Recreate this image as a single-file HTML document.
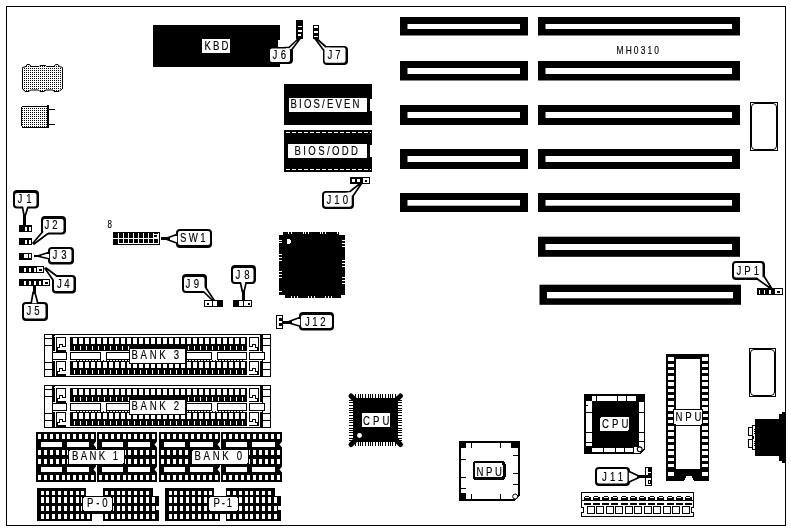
<!DOCTYPE html>
<html><head><meta charset="utf-8"><title>MH0310 board layout</title>
<style>
html,body{margin:0;padding:0;background:#fff;}
body{width:791px;height:531px;overflow:hidden;font-family:"Liberation Sans",sans-serif;}
svg{display:block;filter:grayscale(1);}
svg text{font-family:"Liberation Sans",sans-serif;}
</style></head><body>
<svg width="791" height="531" viewBox="0 0 791 531" shape-rendering="crispEdges">
<defs>
<pattern id="dots" x="0" y="0" width="2" height="2" patternUnits="userSpaceOnUse"><rect x="0" y="0" width="2" height="2" fill="#fff"/><rect x="0" y="0" width="1" height="1" fill="#000"/></pattern>
</defs>
<rect x="0" y="0" width="791" height="531" fill="#fff"/>
<rect x="6.5" y="6.5" width="779" height="519" fill="#fff" stroke="#000" stroke-width="1"/>
<rect x="400" y="17" width="128" height="18.5" fill="#000" shape-rendering="geometricPrecision"/>
<rect x="407.5" y="24" width="112.5" height="5" fill="#fff" shape-rendering="geometricPrecision"/>
<rect x="400" y="61" width="128" height="19.5" fill="#000" shape-rendering="geometricPrecision"/>
<rect x="407.5" y="68" width="112.5" height="6" fill="#fff" shape-rendering="geometricPrecision"/>
<rect x="400" y="105" width="128" height="20" fill="#000" shape-rendering="geometricPrecision"/>
<rect x="407.5" y="112" width="112.5" height="6" fill="#fff" shape-rendering="geometricPrecision"/>
<rect x="400" y="149" width="128" height="20" fill="#000" shape-rendering="geometricPrecision"/>
<rect x="407.5" y="156" width="112.5" height="6" fill="#fff" shape-rendering="geometricPrecision"/>
<rect x="400" y="193" width="128" height="19" fill="#000" shape-rendering="geometricPrecision"/>
<rect x="407.5" y="200" width="112.5" height="5.7" fill="#fff" shape-rendering="geometricPrecision"/>
<rect x="538" y="17" width="202" height="18.5" fill="#000" shape-rendering="geometricPrecision"/>
<rect x="545.5" y="24" width="186.5" height="5" fill="#fff" shape-rendering="geometricPrecision"/>
<rect x="538" y="61" width="202" height="19.5" fill="#000" shape-rendering="geometricPrecision"/>
<rect x="545.5" y="68" width="186.5" height="6" fill="#fff" shape-rendering="geometricPrecision"/>
<rect x="538" y="105" width="202" height="20" fill="#000" shape-rendering="geometricPrecision"/>
<rect x="545.5" y="112" width="186.5" height="6" fill="#fff" shape-rendering="geometricPrecision"/>
<rect x="538" y="149" width="202" height="20" fill="#000" shape-rendering="geometricPrecision"/>
<rect x="545.5" y="156" width="186.5" height="6" fill="#fff" shape-rendering="geometricPrecision"/>
<rect x="538" y="193" width="202" height="19" fill="#000" shape-rendering="geometricPrecision"/>
<rect x="545.5" y="200" width="186.5" height="5.7" fill="#fff" shape-rendering="geometricPrecision"/>
<rect x="538" y="236.7" width="202" height="20.1" fill="#000" shape-rendering="geometricPrecision"/>
<rect x="545.5" y="244" width="186.5" height="6" fill="#fff" shape-rendering="geometricPrecision"/>
<rect x="539.5" y="284.7" width="201.5" height="20.1" fill="#000" shape-rendering="geometricPrecision"/>
<rect x="547.0" y="292" width="186.0" height="6.3" fill="#fff" shape-rendering="geometricPrecision"/>
<text transform="translate(616.5,54) scale(0.8,1)" font-size="10.5" fill="#000" stroke="#000" stroke-width="0.15" text-anchor="start" textLength="53.12" lengthAdjust="spacing">MH0310</text>
<rect x="153" y="25" width="127" height="42" fill="#000" />
<rect x="278" y="40" width="2" height="24" fill="#fff" />
<rect x="202" y="39" width="28" height="14" fill="#fff" />
<text transform="translate(204.5,50) scale(0.8,1)" font-size="12" fill="#000" stroke="#000" stroke-width="0.15" text-anchor="start" textLength="30.0" lengthAdjust="spacing">KBD</text>
<rect x="296" y="20" width="7" height="19" fill="#000" />
<rect x="298" y="26" width="4" height="1" fill="#fff" />
<rect x="298" y="30" width="4" height="2" fill="#fff" />
<rect x="298" y="34" width="3" height="2" fill="#fff" />
<rect x="313" y="25" width="6" height="14" fill="#000" />
<rect x="314" y="26" width="4" height="2" fill="#fff" />
<rect x="314" y="31" width="4" height="2" fill="#fff" />
<rect x="314" y="36" width="4" height="1" fill="#fff" />
<rect x="269" y="47" width="24" height="17" rx="4" fill="#000" shape-rendering="geometricPrecision"/>
<polygon points="299,38 300.5,38 291.5,50 285,50 285,47.5 289,47.5" fill="#fff" stroke="#000" stroke-width="1.7" stroke-linejoin="round" shape-rendering="geometricPrecision"/>
<rect x="270" y="48.5" width="20" height="13.5" rx="2" fill="#fff" shape-rendering="geometricPrecision"/>
<text transform="translate(272.5,59) scale(0.8,1)" font-size="12" fill="#000" stroke="#000" stroke-width="0.15" text-anchor="start" textLength="16.88" lengthAdjust="spacing">J6</text>
<rect x="323" y="46" width="25" height="19" rx="4" fill="#000" shape-rendering="geometricPrecision"/>
<polygon points="314.5,38 316,38 326,47 331,47 331,52 323.5,50" fill="#fff" stroke="#000" stroke-width="1.7" stroke-linejoin="round" shape-rendering="geometricPrecision"/>
<rect x="324.5" y="47.5" width="21.0" height="15.3" rx="2" fill="#fff" shape-rendering="geometricPrecision"/>
<text transform="translate(327.5,59) scale(0.8,1)" font-size="12" fill="#000" stroke="#000" stroke-width="0.15" text-anchor="start" textLength="16.25" lengthAdjust="spacing">J7</text>
<rect x="284" y="84" width="88" height="41" fill="#000" />
<rect x="370" y="99" width="2" height="12" fill="#fff" />
<rect x="289" y="98" width="78" height="14" fill="#fff" />
<text transform="translate(290.5,108) scale(0.8,1)" font-size="12" fill="#000" stroke="#000" stroke-width="0.15" text-anchor="start" textLength="86.25" lengthAdjust="spacing">BIOS/EVEN</text>
<rect x="284" y="130" width="88" height="42" fill="#000" />
<rect x="370" y="145" width="2" height="12" fill="#fff" />
<path d="M286 132.5H371M286 169.5H371" stroke="#fff" stroke-width="1" stroke-dasharray="4 2" fill="none"/>
<rect x="288" y="144" width="79" height="14" fill="#fff" />
<text transform="translate(294.5,155) scale(0.8,1)" font-size="12" fill="#000" stroke="#000" stroke-width="0.15" text-anchor="start" textLength="79.38" lengthAdjust="spacing">BIOS/ODD</text>
<rect x="350" y="177" width="20" height="7" fill="#000" />
<rect x="352" y="179" width="3" height="3" fill="#fff" />
<rect x="357" y="179" width="3" height="3" fill="#fff" />
<rect x="363" y="178" width="6" height="5" fill="#fff" />
<rect x="365" y="180" width="2" height="2" fill="#000" />
<rect x="322" y="191" width="32" height="18" rx="4" fill="#000" shape-rendering="geometricPrecision"/>
<polygon points="360,183.5 361.5,183.5 353,196 346,198 346,192 350,191.5" fill="#fff" stroke="#000" stroke-width="1.7" stroke-linejoin="round" shape-rendering="geometricPrecision"/>
<rect x="324" y="192.7" width="27.7" height="14.0" rx="2" fill="#fff" shape-rendering="geometricPrecision"/>
<text transform="translate(326.5,204) scale(0.8,1)" font-size="12" fill="#000" stroke="#000" stroke-width="0.15" text-anchor="start" textLength="26.88" lengthAdjust="spacing">J10</text>
<rect x="19" y="225" width="13" height="7" fill="#000" />
<rect x="25" y="226.5" width="2" height="4.0" fill="#fff" />
<rect x="29" y="226.5" width="2" height="4.0" fill="#fff" />
<rect x="19" y="238" width="13" height="7" fill="#000" />
<rect x="25" y="239.5" width="2" height="4.0" fill="#fff" />
<rect x="29" y="239.5" width="2" height="4.0" fill="#fff" />
<rect x="19" y="253" width="13" height="6.5" fill="#000" />
<rect x="24" y="254" width="7" height="3.5" fill="#fff" />
<rect x="27.5" y="254" width="1.0" height="3.5" fill="#000" />
<rect x="19" y="266" width="25" height="7" fill="#000" />
<rect x="24" y="267.5" width="2" height="4.0" fill="#fff" />
<rect x="29" y="267.5" width="2" height="4.0" fill="#fff" />
<rect x="34" y="267.5" width="2" height="4.0" fill="#fff" />
<rect x="37" y="267" width="6" height="5" fill="#fff" />
<rect x="39" y="268.5" width="2.5" height="2.0" fill="#000" />
<rect x="19" y="279" width="31" height="7" fill="#000" />
<rect x="24" y="280.5" width="2" height="4.0" fill="#fff" />
<rect x="29" y="280.5" width="2" height="4.0" fill="#fff" />
<rect x="34" y="280.5" width="2" height="4.0" fill="#fff" />
<rect x="39" y="280.5" width="2" height="4.0" fill="#fff" />
<rect x="43" y="280" width="6" height="5" fill="#fff" />
<rect x="45" y="281.5" width="2.5" height="2.0" fill="#000" />
<rect x="13" y="190" width="26" height="18.5" rx="4" fill="#000" shape-rendering="geometricPrecision"/>
<polygon points="22,205 28.5,205 25.5,215 24,215" fill="#fff" stroke="#000" stroke-width="1.7" stroke-linejoin="round" shape-rendering="geometricPrecision"/>
<rect x="15" y="193" width="21.5" height="13.5" rx="2" fill="#fff" shape-rendering="geometricPrecision"/>
<text transform="translate(17.5,203) scale(0.8,1)" font-size="12" fill="#000" stroke="#000" stroke-width="0.15" text-anchor="start" textLength="17.5" lengthAdjust="spacing">J1</text>
<rect x="23.3" y="214" width="3.0" height="11" fill="#000" />
<rect x="41" y="216" width="25" height="18.5" rx="4" fill="#000" shape-rendering="geometricPrecision"/>
<polygon points="33,243 45,229 45,224 50,232 34,244" fill="#fff" stroke="#000" stroke-width="1.7" stroke-linejoin="round" shape-rendering="geometricPrecision"/>
<rect x="43" y="219" width="20.5" height="13.5" rx="2" fill="#fff" shape-rendering="geometricPrecision"/>
<text transform="translate(44.5,229) scale(0.8,1)" font-size="12" fill="#000" stroke="#000" stroke-width="0.15" text-anchor="start" textLength="16.25" lengthAdjust="spacing">J2</text>
<rect x="48" y="247" width="26" height="17.5" rx="4" fill="#000" shape-rendering="geometricPrecision"/>
<polygon points="39,255.5 50,252 50,259 39,256.5" fill="#fff" stroke="#000" stroke-width="1.7" stroke-linejoin="round" shape-rendering="geometricPrecision"/>
<rect x="50" y="249" width="21.5" height="13.0" rx="2" fill="#fff" shape-rendering="geometricPrecision"/>
<text transform="translate(52.5,259) scale(0.8,1)" font-size="12" fill="#000" stroke="#000" stroke-width="0.15" text-anchor="start" textLength="17.5" lengthAdjust="spacing">J3</text>
<rect x="33.5" y="254.8" width="7.5" height="2.4" fill="#000" />
<rect x="52" y="275" width="24" height="18.5" rx="4" fill="#000" shape-rendering="geometricPrecision"/>
<polygon points="45,268.5 46,268 58,277 55,284 53,280" fill="#fff" stroke="#000" stroke-width="1.7" stroke-linejoin="round" shape-rendering="geometricPrecision"/>
<rect x="54" y="277" width="19.5" height="14.0" rx="2" fill="#fff" shape-rendering="geometricPrecision"/>
<text transform="translate(57,288) scale(0.8,1)" font-size="12" fill="#000" stroke="#000" stroke-width="0.15" text-anchor="start" textLength="15.62" lengthAdjust="spacing">J4</text>
<rect x="22" y="302" width="26" height="19" rx="4" fill="#000" shape-rendering="geometricPrecision"/>
<polygon points="33.2,292 34.8,292 38,304 31,304" fill="#fff" stroke="#000" stroke-width="1.7" stroke-linejoin="round" shape-rendering="geometricPrecision"/>
<rect x="24" y="304" width="21.5" height="14.5" rx="2" fill="#fff" shape-rendering="geometricPrecision"/>
<text transform="translate(26.5,315) scale(0.8,1)" font-size="12" fill="#000" stroke="#000" stroke-width="0.15" text-anchor="start" textLength="16.25" lengthAdjust="spacing">J5</text>
<rect x="32.5" y="286" width="3.0" height="8" fill="#000" />
<text transform="translate(107.5,227.5) scale(0.8,1)" font-size="10" fill="#000" stroke="#000" stroke-width="0.15" text-anchor="start">8</text>
<rect x="113" y="232" width="47" height="13" fill="#000" />
<rect x="113" y="238" width="46" height="1" fill="#fff" />
<rect x="118" y="233" width="1" height="11" fill="#fff" />
<rect x="123" y="233" width="1" height="11" fill="#fff" />
<rect x="128" y="233" width="1" height="11" fill="#fff" />
<rect x="133" y="233" width="1" height="11" fill="#fff" />
<rect x="138" y="233" width="1" height="11" fill="#fff" />
<rect x="143" y="233" width="1" height="11" fill="#fff" />
<rect x="148" y="233" width="1" height="11" fill="#fff" />
<rect x="153" y="233" width="1" height="11" fill="#fff" />
<rect x="153" y="234" width="5" height="4" fill="#fff" />
<rect x="154" y="235" width="3" height="2" fill="#000" />
<rect x="158" y="233" width="1" height="11" fill="#fff" />
<rect x="118" y="243" width="41" height="1" fill="#fff" />
<rect x="176" y="229" width="36" height="19" rx="4" fill="#000" shape-rendering="geometricPrecision"/>
<polygon points="167,238 178,234 178,243.5 167,239.5" fill="#fff" stroke="#000" stroke-width="1.7" stroke-linejoin="round" shape-rendering="geometricPrecision"/>
<rect x="178" y="231" width="32" height="14" rx="2" fill="#fff" shape-rendering="geometricPrecision"/>
<text transform="translate(180,242) scale(0.8,1)" font-size="12" fill="#000" stroke="#000" stroke-width="0.15" text-anchor="start" textLength="31.88" lengthAdjust="spacing">SW1</text>
<rect x="161" y="237" width="9" height="3" fill="#000" />
<rect x="204" y="300" width="19" height="7" fill="#000" />
<rect x="205" y="301" width="12.5" height="4.5" fill="#fff" />
<rect x="206.5" y="302.5" width="2.5" height="2.0" fill="#000" />
<rect x="212" y="301" width="1" height="4.5" fill="#000" />
<rect x="216.5" y="301" width="1.0" height="4.5" fill="#000" />
<rect x="233" y="300" width="19" height="7" fill="#000" />
<rect x="239" y="301" width="12" height="4.5" fill="#fff" />
<rect x="243" y="301" width="1" height="4.5" fill="#000" />
<rect x="247.5" y="302.5" width="2.0" height="2.0" fill="#000" />
<rect x="182" y="274" width="25" height="19" rx="4" fill="#000" shape-rendering="geometricPrecision"/>
<polygon points="212,300 214,300 206,288 202,283 200,291 204,292" fill="#fff" stroke="#000" stroke-width="1.7" stroke-linejoin="round" shape-rendering="geometricPrecision"/>
<rect x="184" y="277" width="20.5" height="14" rx="2" fill="#fff" shape-rendering="geometricPrecision"/>
<text transform="translate(185.5,288) scale(0.8,1)" font-size="12" fill="#000" stroke="#000" stroke-width="0.15" text-anchor="start" textLength="16.88" lengthAdjust="spacing">J9</text>
<rect x="231" y="265" width="25" height="19" rx="4" fill="#000" shape-rendering="geometricPrecision"/>
<polygon points="242.5,292 244,292 246.5,281 240,281" fill="#fff" stroke="#000" stroke-width="1.7" stroke-linejoin="round" shape-rendering="geometricPrecision"/>
<rect x="233" y="268" width="20.5" height="14" rx="2" fill="#fff" shape-rendering="geometricPrecision"/>
<text transform="translate(235.5,279) scale(0.8,1)" font-size="12" fill="#000" stroke="#000" stroke-width="0.15" text-anchor="start" textLength="17.5" lengthAdjust="spacing">J8</text>
<rect x="241.8" y="290" width="3.0" height="10" fill="#000" />
<polygon points="283,232 339,232 339,235 345,235 345,295 341,295 341,298 285,298 285,295 279,295 279,235 283,235" fill="#000"/>
<rect x="287" y="239" width="3" height="5" fill="#fff" />
<rect x="290" y="240" width="1" height="3" fill="#fff" />
<rect x="288" y="232" width="1" height="2" fill="#fff" />
<rect x="291" y="232" width="1" height="2" fill="#fff" />
<rect x="303" y="232" width="1" height="2" fill="#fff" />
<rect x="305" y="232" width="1" height="2" fill="#fff" />
<rect x="308" y="232" width="1" height="2" fill="#fff" />
<rect x="320" y="232" width="1" height="2" fill="#fff" />
<rect x="322" y="232" width="1" height="2" fill="#fff" />
<rect x="325" y="232" width="1" height="2" fill="#fff" />
<rect x="337" y="232" width="1" height="2" fill="#fff" />
<rect x="291" y="296" width="1" height="2" fill="#fff" />
<rect x="294" y="296" width="1" height="2" fill="#fff" />
<rect x="297" y="296" width="1" height="2" fill="#fff" />
<rect x="308" y="296" width="1" height="2" fill="#fff" />
<rect x="311" y="296" width="1" height="2" fill="#fff" />
<rect x="314" y="296" width="1" height="2" fill="#fff" />
<rect x="325" y="296" width="1" height="2" fill="#fff" />
<rect x="328" y="296" width="1" height="2" fill="#fff" />
<rect x="331" y="296" width="1" height="2" fill="#fff" />
<rect x="279" y="240" width="3" height="1" fill="#fff" />
<rect x="279" y="242" width="3" height="1" fill="#fff" />
<rect x="279" y="254" width="3" height="1" fill="#fff" />
<rect x="279" y="257" width="3" height="1" fill="#fff" />
<rect x="279" y="260" width="3" height="1" fill="#fff" />
<rect x="279" y="271" width="3" height="1" fill="#fff" />
<rect x="279" y="274" width="3" height="1" fill="#fff" />
<rect x="279" y="277" width="3" height="1" fill="#fff" />
<rect x="279" y="291" width="3" height="1" fill="#fff" />
<rect x="342" y="240" width="3" height="1" fill="#fff" />
<rect x="342" y="243" width="3" height="1" fill="#fff" />
<rect x="342" y="246" width="3" height="1" fill="#fff" />
<rect x="342" y="260" width="3" height="1" fill="#fff" />
<rect x="342" y="263" width="3" height="1" fill="#fff" />
<rect x="342" y="266" width="3" height="1" fill="#fff" />
<rect x="342" y="277" width="3" height="1" fill="#fff" />
<rect x="342" y="280" width="3" height="1" fill="#fff" />
<rect x="342" y="283" width="3" height="1" fill="#fff" />
<rect x="276" y="315" width="7" height="14" fill="#000" />
<rect x="277" y="316" width="5" height="12" fill="#fff" />
<rect x="278.5" y="318" width="3.5" height="3" fill="#000" />
<rect x="278.5" y="323" width="3.5" height="3" fill="#000" />
<rect x="299" y="312" width="35" height="18.5" rx="4" fill="#000" shape-rendering="geometricPrecision"/>
<polygon points="289,321.5 301,317 301,326.5 289,323" fill="#fff" stroke="#000" stroke-width="1.7" stroke-linejoin="round" shape-rendering="geometricPrecision"/>
<rect x="301" y="315" width="31" height="13.0" rx="2" fill="#fff" shape-rendering="geometricPrecision"/>
<text transform="translate(305,326) scale(0.8,1)" font-size="12" fill="#000" stroke="#000" stroke-width="0.15" text-anchor="start" textLength="25.62" lengthAdjust="spacing">J12</text>
<rect x="283" y="320.5" width="9" height="3.0" fill="#000" />
<rect x="750.5" y="102.5" width="27" height="48" fill="#fff" stroke="#000" stroke-width="1" rx="0"/>
<rect x="751.5" y="103.5" width="25" height="46" rx="3.5" fill="#fff" stroke="#000" stroke-width="1" shape-rendering="geometricPrecision"/>
<rect x="749.5" y="348.5" width="26" height="48" fill="#fff" stroke="#000" stroke-width="1" rx="0"/>
<rect x="750.5" y="349.5" width="24" height="46" rx="3.5" fill="#fff" stroke="#000" stroke-width="1" shape-rendering="geometricPrecision"/>
<rect x="757" y="288" width="26" height="7" fill="#000" />
<rect x="758.5" y="289.5" width="1.5" height="4.0" fill="#fff" />
<rect x="763.5" y="289.5" width="1.5" height="4.0" fill="#fff" />
<rect x="769" y="289.5" width="1.5" height="4.0" fill="#fff" />
<rect x="775" y="289" width="7" height="5" fill="#fff" />
<rect x="777" y="290.5" width="3" height="2.0" fill="#000" />
<rect x="732" y="261" width="33" height="19" rx="4" fill="#000" shape-rendering="geometricPrecision"/>
<polygon points="770,288 771.5,288 764.5,277 761,274 756,277 758,279.5" fill="#fff" stroke="#000" stroke-width="1.7" stroke-linejoin="round" shape-rendering="geometricPrecision"/>
<rect x="734" y="263" width="28.5" height="14.5" rx="2" fill="#fff" shape-rendering="geometricPrecision"/>
<text transform="translate(736.5,275) scale(0.8,1)" font-size="12" fill="#000" stroke="#000" stroke-width="0.15" text-anchor="start" textLength="28.12" lengthAdjust="spacing">JP1</text>
<path d="M22.5,67.5 L26,66.5 L27,64.5 L29.5,64.5 L31,66.5 L39,66.5 L40,65.5 L45.5,65.5 L46.5,66.5 L54,66.5 L55.5,64.5 L58,64.5 L59.5,66.5 L62.5,67.5 L62.5,89 L60,90.5 L59,91.5 L54,91.5 L53,90 L46,90 L44,91.5 L40,91.5 L38.5,90 L30.5,90 L29,91.5 L25,91.5 L24,90 L22.5,89 Z" fill="url(#dots)" stroke="#000" stroke-width="1" shape-rendering="geometricPrecision"/>
<path d="M22.5,106.5 H47 V127 H22.5 L21.5,125.5 V108 Z" fill="url(#dots)" stroke="#000" stroke-width="1"/>
<rect x="47" y="105" width="2" height="23" fill="#000" />
<rect x="49" y="109" width="6" height="1" fill="#000" />
<rect x="49" y="124" width="6" height="1" fill="#000" />
<rect x="44.5" y="334.5" width="226" height="42" fill="#fff" stroke="#000" stroke-width="1" rx="0"/>
<rect x="44" y="338" width="8" height="1" fill="#000" />
<rect x="44" y="345" width="8" height="1" fill="#000" />
<rect x="44" y="362" width="8" height="1" fill="#000" />
<rect x="44" y="369" width="8" height="1" fill="#000" />
<rect x="52" y="334" width="1" height="43" fill="#000" />
<rect x="53" y="335" width="2" height="16" fill="#000" />
<rect x="53" y="361" width="2" height="15" fill="#000" />
<rect x="53.5" y="336" width="1.0" height="1" fill="#fff" />
<path d="M56.5,337.5 H65.5 V346.5 H62.5 V344.5 H59.5 V347.5 H57.5 V350.5 H56.5 Z" fill="#fff" stroke="#000" stroke-width="1"/>
<rect x="56" y="350" width="10" height="1.5" fill="#000" />
<path d="M56.5,361.5 H65.5 V370.5 H62.5 V368.5 H59.5 V371.5 H57.5 V374.5 H56.5 Z" fill="#fff" stroke="#000" stroke-width="1"/>
<rect x="56" y="374" width="10" height="1.5" fill="#000" />
<rect x="52.5" y="352.5" width="14" height="7" fill="#fff" stroke="#000" stroke-width="1" rx="0"/>
<rect x="263" y="338" width="8" height="1" fill="#000" />
<rect x="263" y="345" width="8" height="1" fill="#000" />
<rect x="263" y="362" width="8" height="1" fill="#000" />
<rect x="263" y="369" width="8" height="1" fill="#000" />
<rect x="262" y="334" width="1" height="43" fill="#000" />
<rect x="260" y="335" width="2" height="16" fill="#000" />
<rect x="260" y="361" width="2" height="15" fill="#000" />
<path d="M258.5,337.5 H249.5 V346.5 H252.5 V344.5 H255.5 V347.5 H257.5 V350.5 H258.5 Z" fill="#fff" stroke="#000" stroke-width="1"/>
<rect x="249" y="350" width="10" height="1" fill="#000" />
<path d="M258.5,361.5 H249.5 V370.5 H252.5 V368.5 H255.5 V371.5 H257.5 V374.5 H258.5 Z" fill="#fff" stroke="#000" stroke-width="1"/>
<rect x="249" y="374" width="10" height="1" fill="#000" />
<rect x="249.5" y="352.5" width="15" height="7" fill="#fff" stroke="#000" stroke-width="1" rx="0"/>
<rect x="70" y="337" width="177" height="14" fill="#000" />
<rect x="72.5" y="338" width="4.5" height="6" fill="#fff" />
<rect x="74" y="346" width="1" height="4" fill="#fff" />
<rect x="78.5" y="338" width="4.5" height="6" fill="#fff" />
<rect x="80" y="346" width="1" height="4" fill="#fff" />
<rect x="84.5" y="338" width="4.5" height="6" fill="#fff" />
<rect x="86" y="346" width="1" height="4" fill="#fff" />
<rect x="90.5" y="338" width="4.5" height="6" fill="#fff" />
<rect x="92" y="346" width="1" height="4" fill="#fff" />
<rect x="96.5" y="338" width="4.5" height="6" fill="#fff" />
<rect x="98" y="346" width="1" height="4" fill="#fff" />
<rect x="102.5" y="338" width="4.5" height="6" fill="#fff" />
<rect x="104" y="346" width="1" height="4" fill="#fff" />
<rect x="108.5" y="338" width="4.5" height="6" fill="#fff" />
<rect x="110" y="346" width="1" height="4" fill="#fff" />
<rect x="114.5" y="338" width="4.5" height="6" fill="#fff" />
<rect x="116" y="346" width="1" height="4" fill="#fff" />
<rect x="120.5" y="338" width="4.5" height="6" fill="#fff" />
<rect x="122" y="346" width="1" height="4" fill="#fff" />
<rect x="126.5" y="338" width="4.5" height="6" fill="#fff" />
<rect x="128" y="346" width="1" height="4" fill="#fff" />
<rect x="132.5" y="338" width="4.5" height="6" fill="#fff" />
<rect x="134" y="346" width="1" height="4" fill="#fff" />
<rect x="138.5" y="338" width="4.5" height="6" fill="#fff" />
<rect x="140" y="346" width="1" height="4" fill="#fff" />
<rect x="144.5" y="338" width="4.5" height="6" fill="#fff" />
<rect x="146" y="346" width="1" height="4" fill="#fff" />
<rect x="150.5" y="338" width="4.5" height="6" fill="#fff" />
<rect x="152" y="346" width="1" height="4" fill="#fff" />
<rect x="156.5" y="338" width="4.5" height="6" fill="#fff" />
<rect x="158" y="346" width="1" height="4" fill="#fff" />
<rect x="162.5" y="338" width="4.5" height="6" fill="#fff" />
<rect x="164" y="346" width="1" height="4" fill="#fff" />
<rect x="168.5" y="338" width="4.5" height="6" fill="#fff" />
<rect x="170" y="346" width="1" height="4" fill="#fff" />
<rect x="174.5" y="338" width="4.5" height="6" fill="#fff" />
<rect x="176" y="346" width="1" height="4" fill="#fff" />
<rect x="180.5" y="338" width="4.5" height="6" fill="#fff" />
<rect x="182" y="346" width="1" height="4" fill="#fff" />
<rect x="186.5" y="338" width="4.5" height="6" fill="#fff" />
<rect x="188" y="346" width="1" height="4" fill="#fff" />
<rect x="192.5" y="338" width="4.5" height="6" fill="#fff" />
<rect x="194" y="346" width="1" height="4" fill="#fff" />
<rect x="198.5" y="338" width="4.5" height="6" fill="#fff" />
<rect x="200" y="346" width="1" height="4" fill="#fff" />
<rect x="204.5" y="338" width="4.5" height="6" fill="#fff" />
<rect x="206" y="346" width="1" height="4" fill="#fff" />
<rect x="210.5" y="338" width="4.5" height="6" fill="#fff" />
<rect x="212" y="346" width="1" height="4" fill="#fff" />
<rect x="216.5" y="338" width="4.5" height="6" fill="#fff" />
<rect x="218" y="346" width="1" height="4" fill="#fff" />
<rect x="222.5" y="338" width="4.5" height="6" fill="#fff" />
<rect x="224" y="346" width="1" height="4" fill="#fff" />
<rect x="228.5" y="338" width="4.5" height="6" fill="#fff" />
<rect x="230" y="346" width="1" height="4" fill="#fff" />
<rect x="234.5" y="338" width="4.5" height="6" fill="#fff" />
<rect x="236" y="346" width="1" height="4" fill="#fff" />
<rect x="240.5" y="338" width="4.5" height="6" fill="#fff" />
<rect x="242" y="346" width="1" height="4" fill="#fff" />
<rect x="70" y="361" width="177" height="14" fill="#000" />
<rect x="72.5" y="362" width="4.5" height="6" fill="#fff" />
<rect x="74" y="370" width="1" height="4" fill="#fff" />
<rect x="78.5" y="362" width="4.5" height="6" fill="#fff" />
<rect x="80" y="370" width="1" height="4" fill="#fff" />
<rect x="84.5" y="362" width="4.5" height="6" fill="#fff" />
<rect x="86" y="370" width="1" height="4" fill="#fff" />
<rect x="90.5" y="362" width="4.5" height="6" fill="#fff" />
<rect x="92" y="370" width="1" height="4" fill="#fff" />
<rect x="96.5" y="362" width="4.5" height="6" fill="#fff" />
<rect x="98" y="370" width="1" height="4" fill="#fff" />
<rect x="102.5" y="362" width="4.5" height="6" fill="#fff" />
<rect x="104" y="370" width="1" height="4" fill="#fff" />
<rect x="108.5" y="362" width="4.5" height="6" fill="#fff" />
<rect x="110" y="370" width="1" height="4" fill="#fff" />
<rect x="114.5" y="362" width="4.5" height="6" fill="#fff" />
<rect x="116" y="370" width="1" height="4" fill="#fff" />
<rect x="120.5" y="362" width="4.5" height="6" fill="#fff" />
<rect x="122" y="370" width="1" height="4" fill="#fff" />
<rect x="126.5" y="362" width="4.5" height="6" fill="#fff" />
<rect x="128" y="370" width="1" height="4" fill="#fff" />
<rect x="132.5" y="362" width="4.5" height="6" fill="#fff" />
<rect x="134" y="370" width="1" height="4" fill="#fff" />
<rect x="138.5" y="362" width="4.5" height="6" fill="#fff" />
<rect x="140" y="370" width="1" height="4" fill="#fff" />
<rect x="144.5" y="362" width="4.5" height="6" fill="#fff" />
<rect x="146" y="370" width="1" height="4" fill="#fff" />
<rect x="150.5" y="362" width="4.5" height="6" fill="#fff" />
<rect x="152" y="370" width="1" height="4" fill="#fff" />
<rect x="156.5" y="362" width="4.5" height="6" fill="#fff" />
<rect x="158" y="370" width="1" height="4" fill="#fff" />
<rect x="162.5" y="362" width="4.5" height="6" fill="#fff" />
<rect x="164" y="370" width="1" height="4" fill="#fff" />
<rect x="168.5" y="362" width="4.5" height="6" fill="#fff" />
<rect x="170" y="370" width="1" height="4" fill="#fff" />
<rect x="174.5" y="362" width="4.5" height="6" fill="#fff" />
<rect x="176" y="370" width="1" height="4" fill="#fff" />
<rect x="180.5" y="362" width="4.5" height="6" fill="#fff" />
<rect x="182" y="370" width="1" height="4" fill="#fff" />
<rect x="186.5" y="362" width="4.5" height="6" fill="#fff" />
<rect x="188" y="370" width="1" height="4" fill="#fff" />
<rect x="192.5" y="362" width="4.5" height="6" fill="#fff" />
<rect x="194" y="370" width="1" height="4" fill="#fff" />
<rect x="198.5" y="362" width="4.5" height="6" fill="#fff" />
<rect x="200" y="370" width="1" height="4" fill="#fff" />
<rect x="204.5" y="362" width="4.5" height="6" fill="#fff" />
<rect x="206" y="370" width="1" height="4" fill="#fff" />
<rect x="210.5" y="362" width="4.5" height="6" fill="#fff" />
<rect x="212" y="370" width="1" height="4" fill="#fff" />
<rect x="216.5" y="362" width="4.5" height="6" fill="#fff" />
<rect x="218" y="370" width="1" height="4" fill="#fff" />
<rect x="222.5" y="362" width="4.5" height="6" fill="#fff" />
<rect x="224" y="370" width="1" height="4" fill="#fff" />
<rect x="228.5" y="362" width="4.5" height="6" fill="#fff" />
<rect x="230" y="370" width="1" height="4" fill="#fff" />
<rect x="234.5" y="362" width="4.5" height="6" fill="#fff" />
<rect x="236" y="370" width="1" height="4" fill="#fff" />
<rect x="240.5" y="362" width="4.5" height="6" fill="#fff" />
<rect x="242" y="370" width="1" height="4" fill="#fff" />
<rect x="70.5" y="352.5" width="30" height="7" fill="#fff" stroke="#000" stroke-width="1" rx="0"/>
<rect x="106.5" y="352.5" width="24" height="7" fill="#fff" stroke="#000" stroke-width="1" rx="0"/>
<rect x="186.5" y="352.5" width="25" height="7" fill="#fff" stroke="#000" stroke-width="1" rx="0"/>
<rect x="217.5" y="352.5" width="29" height="7" fill="#fff" stroke="#000" stroke-width="1" rx="0"/>
<rect x="76" y="360" width="1" height="1" fill="#000" />
<rect x="79" y="360" width="1" height="1" fill="#000" />
<rect x="82" y="360" width="1" height="1" fill="#000" />
<rect x="85" y="360" width="1" height="1" fill="#000" />
<rect x="88" y="360" width="1" height="1" fill="#000" />
<rect x="91" y="360" width="1" height="1" fill="#000" />
<rect x="94" y="360" width="1" height="1" fill="#000" />
<rect x="97" y="360" width="1" height="1" fill="#000" />
<rect x="100" y="360" width="1" height="1" fill="#000" />
<rect x="103" y="360" width="1" height="1" fill="#000" />
<rect x="106" y="360" width="1" height="1" fill="#000" />
<rect x="109" y="360" width="1" height="1" fill="#000" />
<rect x="112" y="360" width="1" height="1" fill="#000" />
<rect x="115" y="360" width="1" height="1" fill="#000" />
<rect x="118" y="360" width="1" height="1" fill="#000" />
<rect x="121" y="360" width="1" height="1" fill="#000" />
<rect x="124" y="360" width="1" height="1" fill="#000" />
<rect x="127" y="360" width="1" height="1" fill="#000" />
<rect x="188" y="360" width="1" height="1" fill="#000" />
<rect x="191" y="360" width="1" height="1" fill="#000" />
<rect x="194" y="360" width="1" height="1" fill="#000" />
<rect x="197" y="360" width="1" height="1" fill="#000" />
<rect x="200" y="360" width="1" height="1" fill="#000" />
<rect x="203" y="360" width="1" height="1" fill="#000" />
<rect x="206" y="360" width="1" height="1" fill="#000" />
<rect x="209" y="360" width="1" height="1" fill="#000" />
<rect x="212" y="360" width="1" height="1" fill="#000" />
<rect x="215" y="360" width="1" height="1" fill="#000" />
<rect x="218" y="360" width="1" height="1" fill="#000" />
<rect x="221" y="360" width="1" height="1" fill="#000" />
<rect x="224" y="360" width="1" height="1" fill="#000" />
<rect x="227" y="360" width="1" height="1" fill="#000" />
<rect x="230" y="360" width="1" height="1" fill="#000" />
<rect x="233" y="360" width="1" height="1" fill="#000" />
<rect x="236" y="360" width="1" height="1" fill="#000" />
<rect x="239" y="360" width="1" height="1" fill="#000" />
<rect x="242" y="360" width="1" height="1" fill="#000" />
<rect x="129" y="345" width="58" height="19" fill="#000" />
<rect x="130" y="349" width="55" height="14" fill="#fff" />
<text transform="translate(131.5,359) scale(0.8,1)" font-size="12" fill="#000" stroke="#000" stroke-width="0.15" text-anchor="start" textLength="59.38" lengthAdjust="spacing">BANK 3</text>
<rect x="44.5" y="385.5" width="226" height="42" fill="#fff" stroke="#000" stroke-width="1" rx="0"/>
<rect x="44" y="389" width="8" height="1" fill="#000" />
<rect x="44" y="396" width="8" height="1" fill="#000" />
<rect x="44" y="413" width="8" height="1" fill="#000" />
<rect x="44" y="420" width="8" height="1" fill="#000" />
<rect x="52" y="385" width="1" height="43" fill="#000" />
<rect x="53" y="386" width="2" height="16" fill="#000" />
<rect x="53" y="412" width="2" height="15" fill="#000" />
<rect x="53.5" y="387" width="1.0" height="1" fill="#fff" />
<path d="M56.5,388.5 H65.5 V397.5 H62.5 V395.5 H59.5 V398.5 H57.5 V401.5 H56.5 Z" fill="#fff" stroke="#000" stroke-width="1"/>
<rect x="56" y="401" width="10" height="1.5" fill="#000" />
<path d="M56.5,412.5 H65.5 V421.5 H62.5 V419.5 H59.5 V422.5 H57.5 V425.5 H56.5 Z" fill="#fff" stroke="#000" stroke-width="1"/>
<rect x="56" y="425" width="10" height="1.5" fill="#000" />
<rect x="52.5" y="403.5" width="14" height="7" fill="#fff" stroke="#000" stroke-width="1" rx="0"/>
<rect x="263" y="389" width="8" height="1" fill="#000" />
<rect x="263" y="396" width="8" height="1" fill="#000" />
<rect x="263" y="413" width="8" height="1" fill="#000" />
<rect x="263" y="420" width="8" height="1" fill="#000" />
<rect x="262" y="385" width="1" height="43" fill="#000" />
<rect x="260" y="386" width="2" height="16" fill="#000" />
<rect x="260" y="412" width="2" height="15" fill="#000" />
<path d="M258.5,388.5 H249.5 V397.5 H252.5 V395.5 H255.5 V398.5 H257.5 V401.5 H258.5 Z" fill="#fff" stroke="#000" stroke-width="1"/>
<rect x="249" y="401" width="10" height="1" fill="#000" />
<path d="M258.5,412.5 H249.5 V421.5 H252.5 V419.5 H255.5 V422.5 H257.5 V425.5 H258.5 Z" fill="#fff" stroke="#000" stroke-width="1"/>
<rect x="249" y="425" width="10" height="1" fill="#000" />
<rect x="249.5" y="403.5" width="15" height="7" fill="#fff" stroke="#000" stroke-width="1" rx="0"/>
<rect x="70" y="388" width="177" height="14" fill="#000" />
<rect x="72.5" y="389" width="4.5" height="6" fill="#fff" />
<rect x="74" y="397" width="1" height="4" fill="#fff" />
<rect x="78.5" y="389" width="4.5" height="6" fill="#fff" />
<rect x="80" y="397" width="1" height="4" fill="#fff" />
<rect x="84.5" y="389" width="4.5" height="6" fill="#fff" />
<rect x="86" y="397" width="1" height="4" fill="#fff" />
<rect x="90.5" y="389" width="4.5" height="6" fill="#fff" />
<rect x="92" y="397" width="1" height="4" fill="#fff" />
<rect x="96.5" y="389" width="4.5" height="6" fill="#fff" />
<rect x="98" y="397" width="1" height="4" fill="#fff" />
<rect x="102.5" y="389" width="4.5" height="6" fill="#fff" />
<rect x="104" y="397" width="1" height="4" fill="#fff" />
<rect x="108.5" y="389" width="4.5" height="6" fill="#fff" />
<rect x="110" y="397" width="1" height="4" fill="#fff" />
<rect x="114.5" y="389" width="4.5" height="6" fill="#fff" />
<rect x="116" y="397" width="1" height="4" fill="#fff" />
<rect x="120.5" y="389" width="4.5" height="6" fill="#fff" />
<rect x="122" y="397" width="1" height="4" fill="#fff" />
<rect x="126.5" y="389" width="4.5" height="6" fill="#fff" />
<rect x="128" y="397" width="1" height="4" fill="#fff" />
<rect x="132.5" y="389" width="4.5" height="6" fill="#fff" />
<rect x="134" y="397" width="1" height="4" fill="#fff" />
<rect x="138.5" y="389" width="4.5" height="6" fill="#fff" />
<rect x="140" y="397" width="1" height="4" fill="#fff" />
<rect x="144.5" y="389" width="4.5" height="6" fill="#fff" />
<rect x="146" y="397" width="1" height="4" fill="#fff" />
<rect x="150.5" y="389" width="4.5" height="6" fill="#fff" />
<rect x="152" y="397" width="1" height="4" fill="#fff" />
<rect x="156.5" y="389" width="4.5" height="6" fill="#fff" />
<rect x="158" y="397" width="1" height="4" fill="#fff" />
<rect x="162.5" y="389" width="4.5" height="6" fill="#fff" />
<rect x="164" y="397" width="1" height="4" fill="#fff" />
<rect x="168.5" y="389" width="4.5" height="6" fill="#fff" />
<rect x="170" y="397" width="1" height="4" fill="#fff" />
<rect x="174.5" y="389" width="4.5" height="6" fill="#fff" />
<rect x="176" y="397" width="1" height="4" fill="#fff" />
<rect x="180.5" y="389" width="4.5" height="6" fill="#fff" />
<rect x="182" y="397" width="1" height="4" fill="#fff" />
<rect x="186.5" y="389" width="4.5" height="6" fill="#fff" />
<rect x="188" y="397" width="1" height="4" fill="#fff" />
<rect x="192.5" y="389" width="4.5" height="6" fill="#fff" />
<rect x="194" y="397" width="1" height="4" fill="#fff" />
<rect x="198.5" y="389" width="4.5" height="6" fill="#fff" />
<rect x="200" y="397" width="1" height="4" fill="#fff" />
<rect x="204.5" y="389" width="4.5" height="6" fill="#fff" />
<rect x="206" y="397" width="1" height="4" fill="#fff" />
<rect x="210.5" y="389" width="4.5" height="6" fill="#fff" />
<rect x="212" y="397" width="1" height="4" fill="#fff" />
<rect x="216.5" y="389" width="4.5" height="6" fill="#fff" />
<rect x="218" y="397" width="1" height="4" fill="#fff" />
<rect x="222.5" y="389" width="4.5" height="6" fill="#fff" />
<rect x="224" y="397" width="1" height="4" fill="#fff" />
<rect x="228.5" y="389" width="4.5" height="6" fill="#fff" />
<rect x="230" y="397" width="1" height="4" fill="#fff" />
<rect x="234.5" y="389" width="4.5" height="6" fill="#fff" />
<rect x="236" y="397" width="1" height="4" fill="#fff" />
<rect x="240.5" y="389" width="4.5" height="6" fill="#fff" />
<rect x="242" y="397" width="1" height="4" fill="#fff" />
<rect x="70" y="412" width="177" height="14" fill="#000" />
<rect x="72.5" y="413" width="4.5" height="6" fill="#fff" />
<rect x="74" y="421" width="1" height="4" fill="#fff" />
<rect x="78.5" y="413" width="4.5" height="6" fill="#fff" />
<rect x="80" y="421" width="1" height="4" fill="#fff" />
<rect x="84.5" y="413" width="4.5" height="6" fill="#fff" />
<rect x="86" y="421" width="1" height="4" fill="#fff" />
<rect x="90.5" y="413" width="4.5" height="6" fill="#fff" />
<rect x="92" y="421" width="1" height="4" fill="#fff" />
<rect x="96.5" y="413" width="4.5" height="6" fill="#fff" />
<rect x="98" y="421" width="1" height="4" fill="#fff" />
<rect x="102.5" y="413" width="4.5" height="6" fill="#fff" />
<rect x="104" y="421" width="1" height="4" fill="#fff" />
<rect x="108.5" y="413" width="4.5" height="6" fill="#fff" />
<rect x="110" y="421" width="1" height="4" fill="#fff" />
<rect x="114.5" y="413" width="4.5" height="6" fill="#fff" />
<rect x="116" y="421" width="1" height="4" fill="#fff" />
<rect x="120.5" y="413" width="4.5" height="6" fill="#fff" />
<rect x="122" y="421" width="1" height="4" fill="#fff" />
<rect x="126.5" y="413" width="4.5" height="6" fill="#fff" />
<rect x="128" y="421" width="1" height="4" fill="#fff" />
<rect x="132.5" y="413" width="4.5" height="6" fill="#fff" />
<rect x="134" y="421" width="1" height="4" fill="#fff" />
<rect x="138.5" y="413" width="4.5" height="6" fill="#fff" />
<rect x="140" y="421" width="1" height="4" fill="#fff" />
<rect x="144.5" y="413" width="4.5" height="6" fill="#fff" />
<rect x="146" y="421" width="1" height="4" fill="#fff" />
<rect x="150.5" y="413" width="4.5" height="6" fill="#fff" />
<rect x="152" y="421" width="1" height="4" fill="#fff" />
<rect x="156.5" y="413" width="4.5" height="6" fill="#fff" />
<rect x="158" y="421" width="1" height="4" fill="#fff" />
<rect x="162.5" y="413" width="4.5" height="6" fill="#fff" />
<rect x="164" y="421" width="1" height="4" fill="#fff" />
<rect x="168.5" y="413" width="4.5" height="6" fill="#fff" />
<rect x="170" y="421" width="1" height="4" fill="#fff" />
<rect x="174.5" y="413" width="4.5" height="6" fill="#fff" />
<rect x="176" y="421" width="1" height="4" fill="#fff" />
<rect x="180.5" y="413" width="4.5" height="6" fill="#fff" />
<rect x="182" y="421" width="1" height="4" fill="#fff" />
<rect x="186.5" y="413" width="4.5" height="6" fill="#fff" />
<rect x="188" y="421" width="1" height="4" fill="#fff" />
<rect x="192.5" y="413" width="4.5" height="6" fill="#fff" />
<rect x="194" y="421" width="1" height="4" fill="#fff" />
<rect x="198.5" y="413" width="4.5" height="6" fill="#fff" />
<rect x="200" y="421" width="1" height="4" fill="#fff" />
<rect x="204.5" y="413" width="4.5" height="6" fill="#fff" />
<rect x="206" y="421" width="1" height="4" fill="#fff" />
<rect x="210.5" y="413" width="4.5" height="6" fill="#fff" />
<rect x="212" y="421" width="1" height="4" fill="#fff" />
<rect x="216.5" y="413" width="4.5" height="6" fill="#fff" />
<rect x="218" y="421" width="1" height="4" fill="#fff" />
<rect x="222.5" y="413" width="4.5" height="6" fill="#fff" />
<rect x="224" y="421" width="1" height="4" fill="#fff" />
<rect x="228.5" y="413" width="4.5" height="6" fill="#fff" />
<rect x="230" y="421" width="1" height="4" fill="#fff" />
<rect x="234.5" y="413" width="4.5" height="6" fill="#fff" />
<rect x="236" y="421" width="1" height="4" fill="#fff" />
<rect x="240.5" y="413" width="4.5" height="6" fill="#fff" />
<rect x="242" y="421" width="1" height="4" fill="#fff" />
<rect x="70.5" y="403.5" width="30" height="7" fill="#fff" stroke="#000" stroke-width="1" rx="0"/>
<rect x="106.5" y="403.5" width="24" height="7" fill="#fff" stroke="#000" stroke-width="1" rx="0"/>
<rect x="186.5" y="403.5" width="25" height="7" fill="#fff" stroke="#000" stroke-width="1" rx="0"/>
<rect x="217.5" y="403.5" width="29" height="7" fill="#fff" stroke="#000" stroke-width="1" rx="0"/>
<rect x="76" y="411" width="1" height="1" fill="#000" />
<rect x="79" y="411" width="1" height="1" fill="#000" />
<rect x="82" y="411" width="1" height="1" fill="#000" />
<rect x="85" y="411" width="1" height="1" fill="#000" />
<rect x="88" y="411" width="1" height="1" fill="#000" />
<rect x="91" y="411" width="1" height="1" fill="#000" />
<rect x="94" y="411" width="1" height="1" fill="#000" />
<rect x="97" y="411" width="1" height="1" fill="#000" />
<rect x="100" y="411" width="1" height="1" fill="#000" />
<rect x="103" y="411" width="1" height="1" fill="#000" />
<rect x="106" y="411" width="1" height="1" fill="#000" />
<rect x="109" y="411" width="1" height="1" fill="#000" />
<rect x="112" y="411" width="1" height="1" fill="#000" />
<rect x="115" y="411" width="1" height="1" fill="#000" />
<rect x="118" y="411" width="1" height="1" fill="#000" />
<rect x="121" y="411" width="1" height="1" fill="#000" />
<rect x="124" y="411" width="1" height="1" fill="#000" />
<rect x="127" y="411" width="1" height="1" fill="#000" />
<rect x="188" y="411" width="1" height="1" fill="#000" />
<rect x="191" y="411" width="1" height="1" fill="#000" />
<rect x="194" y="411" width="1" height="1" fill="#000" />
<rect x="197" y="411" width="1" height="1" fill="#000" />
<rect x="200" y="411" width="1" height="1" fill="#000" />
<rect x="203" y="411" width="1" height="1" fill="#000" />
<rect x="206" y="411" width="1" height="1" fill="#000" />
<rect x="209" y="411" width="1" height="1" fill="#000" />
<rect x="212" y="411" width="1" height="1" fill="#000" />
<rect x="215" y="411" width="1" height="1" fill="#000" />
<rect x="218" y="411" width="1" height="1" fill="#000" />
<rect x="221" y="411" width="1" height="1" fill="#000" />
<rect x="224" y="411" width="1" height="1" fill="#000" />
<rect x="227" y="411" width="1" height="1" fill="#000" />
<rect x="230" y="411" width="1" height="1" fill="#000" />
<rect x="233" y="411" width="1" height="1" fill="#000" />
<rect x="236" y="411" width="1" height="1" fill="#000" />
<rect x="239" y="411" width="1" height="1" fill="#000" />
<rect x="242" y="411" width="1" height="1" fill="#000" />
<rect x="129" y="396" width="58" height="19" fill="#000" />
<rect x="130" y="400" width="55" height="14" fill="#fff" />
<text transform="translate(131.5,410) scale(0.8,1)" font-size="12" fill="#000" stroke="#000" stroke-width="0.15" text-anchor="start" textLength="59.38" lengthAdjust="spacing">BANK 2</text>
<rect x="36" y="432" width="121" height="50" fill="#000" />
<rect x="96" y="432" width="1" height="50" fill="#fff" />
<rect x="38.0" y="434" width="3.0" height="5" fill="#fff" />
<rect x="44.0" y="434" width="3.0" height="5" fill="#fff" />
<rect x="49.5" y="434" width="3.0" height="5" fill="#fff" />
<rect x="55.5" y="434" width="3.0" height="5" fill="#fff" />
<rect x="61.5" y="434" width="3.0" height="5" fill="#fff" />
<rect x="67.0" y="434" width="3.0" height="5" fill="#fff" />
<rect x="73.0" y="434" width="3.0" height="5" fill="#fff" />
<rect x="79.0" y="434" width="3.0" height="5" fill="#fff" />
<rect x="85.0" y="434" width="3.0" height="5" fill="#fff" />
<rect x="90.5" y="434" width="3.0" height="5" fill="#fff" />
<rect x="38.0" y="450" width="3.0" height="5" fill="#fff" />
<rect x="44.0" y="450" width="3.0" height="5" fill="#fff" />
<rect x="49.5" y="450" width="3.0" height="5" fill="#fff" />
<rect x="55.5" y="450" width="3.0" height="5" fill="#fff" />
<rect x="61.5" y="450" width="3.0" height="5" fill="#fff" />
<rect x="67.0" y="450" width="3.0" height="5" fill="#fff" />
<rect x="73.0" y="450" width="3.0" height="5" fill="#fff" />
<rect x="79.0" y="450" width="3.0" height="5" fill="#fff" />
<rect x="85.0" y="450" width="3.0" height="5" fill="#fff" />
<rect x="90.5" y="450" width="3.0" height="5" fill="#fff" />
<rect x="38.0" y="459" width="3.0" height="5" fill="#fff" />
<rect x="44.0" y="459" width="3.0" height="5" fill="#fff" />
<rect x="49.5" y="459" width="3.0" height="5" fill="#fff" />
<rect x="55.5" y="459" width="3.0" height="5" fill="#fff" />
<rect x="61.5" y="459" width="3.0" height="5" fill="#fff" />
<rect x="67.0" y="459" width="3.0" height="5" fill="#fff" />
<rect x="73.0" y="459" width="3.0" height="5" fill="#fff" />
<rect x="79.0" y="459" width="3.0" height="5" fill="#fff" />
<rect x="85.0" y="459" width="3.0" height="5" fill="#fff" />
<rect x="90.5" y="459" width="3.0" height="5" fill="#fff" />
<rect x="38.0" y="475" width="3.0" height="5" fill="#fff" />
<rect x="44.0" y="475" width="3.0" height="5" fill="#fff" />
<rect x="49.5" y="475" width="3.0" height="5" fill="#fff" />
<rect x="55.5" y="475" width="3.0" height="5" fill="#fff" />
<rect x="61.5" y="475" width="3.0" height="5" fill="#fff" />
<rect x="67.0" y="475" width="3.0" height="5" fill="#fff" />
<rect x="73.0" y="475" width="3.0" height="5" fill="#fff" />
<rect x="79.0" y="475" width="3.0" height="5" fill="#fff" />
<rect x="85.0" y="475" width="3.0" height="5" fill="#fff" />
<rect x="90.5" y="475" width="3.0" height="5" fill="#fff" />
<rect x="41" y="442" width="21" height="5" fill="#fff" />
<rect x="67" y="442" width="22" height="5" fill="#fff" />
<polygon points="96,441.5 93.5,444.5 96,447.5" fill="#fff" shape-rendering="geometricPrecision"/>
<rect x="41" y="467" width="21" height="5" fill="#fff" />
<rect x="67" y="467" width="22" height="5" fill="#fff" />
<polygon points="96,466.5 93.5,469.5 96,472.5" fill="#fff" shape-rendering="geometricPrecision"/>
<rect x="99.0" y="434" width="3.0" height="5" fill="#fff" />
<rect x="105.0" y="434" width="3.0" height="5" fill="#fff" />
<rect x="110.5" y="434" width="3.0" height="5" fill="#fff" />
<rect x="116.5" y="434" width="3.0" height="5" fill="#fff" />
<rect x="122.5" y="434" width="3.0" height="5" fill="#fff" />
<rect x="128.0" y="434" width="3.0" height="5" fill="#fff" />
<rect x="134.0" y="434" width="3.0" height="5" fill="#fff" />
<rect x="140.0" y="434" width="3.0" height="5" fill="#fff" />
<rect x="146.0" y="434" width="3.0" height="5" fill="#fff" />
<rect x="151.5" y="434" width="3.0" height="5" fill="#fff" />
<rect x="99.0" y="450" width="3.0" height="5" fill="#fff" />
<rect x="105.0" y="450" width="3.0" height="5" fill="#fff" />
<rect x="110.5" y="450" width="3.0" height="5" fill="#fff" />
<rect x="116.5" y="450" width="3.0" height="5" fill="#fff" />
<rect x="122.5" y="450" width="3.0" height="5" fill="#fff" />
<rect x="128.0" y="450" width="3.0" height="5" fill="#fff" />
<rect x="134.0" y="450" width="3.0" height="5" fill="#fff" />
<rect x="140.0" y="450" width="3.0" height="5" fill="#fff" />
<rect x="146.0" y="450" width="3.0" height="5" fill="#fff" />
<rect x="151.5" y="450" width="3.0" height="5" fill="#fff" />
<rect x="99.0" y="459" width="3.0" height="5" fill="#fff" />
<rect x="105.0" y="459" width="3.0" height="5" fill="#fff" />
<rect x="110.5" y="459" width="3.0" height="5" fill="#fff" />
<rect x="116.5" y="459" width="3.0" height="5" fill="#fff" />
<rect x="122.5" y="459" width="3.0" height="5" fill="#fff" />
<rect x="128.0" y="459" width="3.0" height="5" fill="#fff" />
<rect x="134.0" y="459" width="3.0" height="5" fill="#fff" />
<rect x="140.0" y="459" width="3.0" height="5" fill="#fff" />
<rect x="146.0" y="459" width="3.0" height="5" fill="#fff" />
<rect x="151.5" y="459" width="3.0" height="5" fill="#fff" />
<rect x="99.0" y="475" width="3.0" height="5" fill="#fff" />
<rect x="105.0" y="475" width="3.0" height="5" fill="#fff" />
<rect x="110.5" y="475" width="3.0" height="5" fill="#fff" />
<rect x="116.5" y="475" width="3.0" height="5" fill="#fff" />
<rect x="122.5" y="475" width="3.0" height="5" fill="#fff" />
<rect x="128.0" y="475" width="3.0" height="5" fill="#fff" />
<rect x="134.0" y="475" width="3.0" height="5" fill="#fff" />
<rect x="140.0" y="475" width="3.0" height="5" fill="#fff" />
<rect x="146.0" y="475" width="3.0" height="5" fill="#fff" />
<rect x="151.5" y="475" width="3.0" height="5" fill="#fff" />
<rect x="102" y="442" width="21" height="5" fill="#fff" />
<rect x="128" y="442" width="22" height="5" fill="#fff" />
<polygon points="157,441.5 154.5,444.5 157,447.5" fill="#fff" shape-rendering="geometricPrecision"/>
<rect x="102" y="467" width="21" height="5" fill="#fff" />
<rect x="128" y="467" width="22" height="5" fill="#fff" />
<polygon points="157,466.5 154.5,469.5 157,472.5" fill="#fff" shape-rendering="geometricPrecision"/>
<rect x="68" y="449" width="57" height="16" fill="#000" />
<rect x="69" y="450" width="55" height="14" rx="2" fill="#fff"/>
<text transform="translate(72,460.3) scale(0.8,1)" font-size="12" fill="#000" stroke="#000" stroke-width="0.15" text-anchor="start" textLength="57.5" lengthAdjust="spacing">BANK 1</text>
<rect x="159" y="432" width="123" height="50" fill="#000" />
<rect x="220" y="432" width="1" height="50" fill="#fff" />
<rect x="161.0" y="434" width="3.0" height="5" fill="#fff" />
<rect x="167.0" y="434" width="3.0" height="5" fill="#fff" />
<rect x="173.0" y="434" width="3.0" height="5" fill="#fff" />
<rect x="179.0" y="434" width="3.0" height="5" fill="#fff" />
<rect x="185.0" y="434" width="3.0" height="5" fill="#fff" />
<rect x="191.0" y="434" width="3.0" height="5" fill="#fff" />
<rect x="196.5" y="434" width="3.0" height="5" fill="#fff" />
<rect x="202.5" y="434" width="3.0" height="5" fill="#fff" />
<rect x="208.5" y="434" width="3.0" height="5" fill="#fff" />
<rect x="214.5" y="434" width="3.0" height="5" fill="#fff" />
<rect x="161.0" y="450" width="3.0" height="5" fill="#fff" />
<rect x="167.0" y="450" width="3.0" height="5" fill="#fff" />
<rect x="173.0" y="450" width="3.0" height="5" fill="#fff" />
<rect x="179.0" y="450" width="3.0" height="5" fill="#fff" />
<rect x="185.0" y="450" width="3.0" height="5" fill="#fff" />
<rect x="191.0" y="450" width="3.0" height="5" fill="#fff" />
<rect x="196.5" y="450" width="3.0" height="5" fill="#fff" />
<rect x="202.5" y="450" width="3.0" height="5" fill="#fff" />
<rect x="208.5" y="450" width="3.0" height="5" fill="#fff" />
<rect x="214.5" y="450" width="3.0" height="5" fill="#fff" />
<rect x="161.0" y="459" width="3.0" height="5" fill="#fff" />
<rect x="167.0" y="459" width="3.0" height="5" fill="#fff" />
<rect x="173.0" y="459" width="3.0" height="5" fill="#fff" />
<rect x="179.0" y="459" width="3.0" height="5" fill="#fff" />
<rect x="185.0" y="459" width="3.0" height="5" fill="#fff" />
<rect x="191.0" y="459" width="3.0" height="5" fill="#fff" />
<rect x="196.5" y="459" width="3.0" height="5" fill="#fff" />
<rect x="202.5" y="459" width="3.0" height="5" fill="#fff" />
<rect x="208.5" y="459" width="3.0" height="5" fill="#fff" />
<rect x="214.5" y="459" width="3.0" height="5" fill="#fff" />
<rect x="161.0" y="475" width="3.0" height="5" fill="#fff" />
<rect x="167.0" y="475" width="3.0" height="5" fill="#fff" />
<rect x="173.0" y="475" width="3.0" height="5" fill="#fff" />
<rect x="179.0" y="475" width="3.0" height="5" fill="#fff" />
<rect x="185.0" y="475" width="3.0" height="5" fill="#fff" />
<rect x="191.0" y="475" width="3.0" height="5" fill="#fff" />
<rect x="196.5" y="475" width="3.0" height="5" fill="#fff" />
<rect x="202.5" y="475" width="3.0" height="5" fill="#fff" />
<rect x="208.5" y="475" width="3.0" height="5" fill="#fff" />
<rect x="214.5" y="475" width="3.0" height="5" fill="#fff" />
<rect x="164" y="442" width="21" height="5" fill="#fff" />
<rect x="190" y="442" width="23" height="5" fill="#fff" />
<polygon points="220,441.5 217.5,444.5 220,447.5" fill="#fff" shape-rendering="geometricPrecision"/>
<rect x="164" y="467" width="21" height="5" fill="#fff" />
<rect x="190" y="467" width="23" height="5" fill="#fff" />
<polygon points="220,466.5 217.5,469.5 220,472.5" fill="#fff" shape-rendering="geometricPrecision"/>
<rect x="223.0" y="434" width="3.0" height="5" fill="#fff" />
<rect x="229.0" y="434" width="3.0" height="5" fill="#fff" />
<rect x="235.0" y="434" width="3.0" height="5" fill="#fff" />
<rect x="241.0" y="434" width="3.0" height="5" fill="#fff" />
<rect x="247.0" y="434" width="3.0" height="5" fill="#fff" />
<rect x="253.0" y="434" width="3.0" height="5" fill="#fff" />
<rect x="258.5" y="434" width="3.0" height="5" fill="#fff" />
<rect x="264.5" y="434" width="3.0" height="5" fill="#fff" />
<rect x="270.5" y="434" width="3.0" height="5" fill="#fff" />
<rect x="276.5" y="434" width="3.0" height="5" fill="#fff" />
<rect x="223.0" y="450" width="3.0" height="5" fill="#fff" />
<rect x="229.0" y="450" width="3.0" height="5" fill="#fff" />
<rect x="235.0" y="450" width="3.0" height="5" fill="#fff" />
<rect x="241.0" y="450" width="3.0" height="5" fill="#fff" />
<rect x="247.0" y="450" width="3.0" height="5" fill="#fff" />
<rect x="253.0" y="450" width="3.0" height="5" fill="#fff" />
<rect x="258.5" y="450" width="3.0" height="5" fill="#fff" />
<rect x="264.5" y="450" width="3.0" height="5" fill="#fff" />
<rect x="270.5" y="450" width="3.0" height="5" fill="#fff" />
<rect x="276.5" y="450" width="3.0" height="5" fill="#fff" />
<rect x="223.0" y="459" width="3.0" height="5" fill="#fff" />
<rect x="229.0" y="459" width="3.0" height="5" fill="#fff" />
<rect x="235.0" y="459" width="3.0" height="5" fill="#fff" />
<rect x="241.0" y="459" width="3.0" height="5" fill="#fff" />
<rect x="247.0" y="459" width="3.0" height="5" fill="#fff" />
<rect x="253.0" y="459" width="3.0" height="5" fill="#fff" />
<rect x="258.5" y="459" width="3.0" height="5" fill="#fff" />
<rect x="264.5" y="459" width="3.0" height="5" fill="#fff" />
<rect x="270.5" y="459" width="3.0" height="5" fill="#fff" />
<rect x="276.5" y="459" width="3.0" height="5" fill="#fff" />
<rect x="223.0" y="475" width="3.0" height="5" fill="#fff" />
<rect x="229.0" y="475" width="3.0" height="5" fill="#fff" />
<rect x="235.0" y="475" width="3.0" height="5" fill="#fff" />
<rect x="241.0" y="475" width="3.0" height="5" fill="#fff" />
<rect x="247.0" y="475" width="3.0" height="5" fill="#fff" />
<rect x="253.0" y="475" width="3.0" height="5" fill="#fff" />
<rect x="258.5" y="475" width="3.0" height="5" fill="#fff" />
<rect x="264.5" y="475" width="3.0" height="5" fill="#fff" />
<rect x="270.5" y="475" width="3.0" height="5" fill="#fff" />
<rect x="276.5" y="475" width="3.0" height="5" fill="#fff" />
<rect x="226" y="442" width="21" height="5" fill="#fff" />
<rect x="252" y="442" width="23" height="5" fill="#fff" />
<polygon points="282,441.5 279.5,444.5 282,447.5" fill="#fff" shape-rendering="geometricPrecision"/>
<rect x="226" y="467" width="21" height="5" fill="#fff" />
<rect x="252" y="467" width="23" height="5" fill="#fff" />
<polygon points="282,466.5 279.5,469.5 282,472.5" fill="#fff" shape-rendering="geometricPrecision"/>
<rect x="191" y="449" width="58" height="16" fill="#000" />
<rect x="192" y="450" width="56" height="14" rx="2" fill="#fff"/>
<text transform="translate(194.5,460.3) scale(0.8,1)" font-size="12" fill="#000" stroke="#000" stroke-width="0.15" text-anchor="start" textLength="59.38" lengthAdjust="spacing">BANK 0</text>
<rect x="37" y="488" width="116" height="33" fill="#000" />
<rect x="153" y="496" width="6" height="25" fill="#000" />
<rect x="156" y="506" width="3" height="4" fill="#fff" />
<rect x="40.5" y="490.5" width="3.0" height="4.0" fill="#fff" />
<rect x="46.0" y="490.5" width="3.0" height="4.0" fill="#fff" />
<rect x="52.0" y="490.5" width="3.0" height="4.0" fill="#fff" />
<rect x="58.0" y="490.5" width="3.0" height="4.0" fill="#fff" />
<rect x="63.5" y="490.5" width="3.0" height="4.0" fill="#fff" />
<rect x="69.5" y="490.5" width="3.0" height="4.0" fill="#fff" />
<rect x="75.5" y="490.5" width="3.0" height="4.0" fill="#fff" />
<rect x="81.0" y="490.5" width="3.0" height="4.0" fill="#fff" />
<rect x="87.0" y="490.5" width="3.0" height="4.0" fill="#fff" />
<rect x="93.0" y="490.5" width="3.0" height="4.0" fill="#fff" />
<rect x="99.0" y="490.5" width="3.0" height="4.0" fill="#fff" />
<rect x="104.5" y="490.5" width="3.0" height="4.0" fill="#fff" />
<rect x="110.5" y="490.5" width="3.0" height="4.0" fill="#fff" />
<rect x="116.5" y="490.5" width="3.0" height="4.0" fill="#fff" />
<rect x="122.0" y="490.5" width="3.0" height="4.0" fill="#fff" />
<rect x="128.0" y="490.5" width="3.0" height="4.0" fill="#fff" />
<rect x="134.0" y="490.5" width="3.0" height="4.0" fill="#fff" />
<rect x="139.5" y="490.5" width="3.0" height="4.0" fill="#fff" />
<rect x="145.5" y="490.5" width="3.0" height="4.0" fill="#fff" />
<rect x="40.5" y="497" width="3.0" height="6" fill="#fff" />
<rect x="46.0" y="497" width="3.0" height="6" fill="#fff" />
<rect x="52.0" y="497" width="3.0" height="6" fill="#fff" />
<rect x="58.0" y="497" width="3.0" height="6" fill="#fff" />
<rect x="63.5" y="497" width="3.0" height="6" fill="#fff" />
<rect x="69.5" y="497" width="3.0" height="6" fill="#fff" />
<rect x="75.5" y="497" width="3.0" height="6" fill="#fff" />
<rect x="81.0" y="497" width="3.0" height="6" fill="#fff" />
<rect x="87.0" y="497" width="3.0" height="6" fill="#fff" />
<rect x="93.0" y="497" width="3.0" height="6" fill="#fff" />
<rect x="99.0" y="497" width="3.0" height="6" fill="#fff" />
<rect x="104.5" y="497" width="3.0" height="6" fill="#fff" />
<rect x="110.5" y="497" width="3.0" height="6" fill="#fff" />
<rect x="116.5" y="497" width="3.0" height="6" fill="#fff" />
<rect x="122.0" y="497" width="3.0" height="6" fill="#fff" />
<rect x="128.0" y="497" width="3.0" height="6" fill="#fff" />
<rect x="134.0" y="497" width="3.0" height="6" fill="#fff" />
<rect x="139.5" y="497" width="3.0" height="6" fill="#fff" />
<rect x="145.5" y="497" width="3.0" height="6" fill="#fff" />
<rect x="151.5" y="497" width="3.0" height="6" fill="#fff" />
<rect x="40.5" y="506" width="3.0" height="4.5" fill="#fff" />
<rect x="46.0" y="506" width="3.0" height="4.5" fill="#fff" />
<rect x="52.0" y="506" width="3.0" height="4.5" fill="#fff" />
<rect x="58.0" y="506" width="3.0" height="4.5" fill="#fff" />
<rect x="63.5" y="506" width="3.0" height="4.5" fill="#fff" />
<rect x="69.5" y="506" width="3.0" height="4.5" fill="#fff" />
<rect x="75.5" y="506" width="3.0" height="4.5" fill="#fff" />
<rect x="81.0" y="506" width="3.0" height="4.5" fill="#fff" />
<rect x="87.0" y="506" width="3.0" height="4.5" fill="#fff" />
<rect x="93.0" y="506" width="3.0" height="4.5" fill="#fff" />
<rect x="99.0" y="506" width="3.0" height="4.5" fill="#fff" />
<rect x="104.5" y="506" width="3.0" height="4.5" fill="#fff" />
<rect x="110.5" y="506" width="3.0" height="4.5" fill="#fff" />
<rect x="116.5" y="506" width="3.0" height="4.5" fill="#fff" />
<rect x="122.0" y="506" width="3.0" height="4.5" fill="#fff" />
<rect x="128.0" y="506" width="3.0" height="4.5" fill="#fff" />
<rect x="134.0" y="506" width="3.0" height="4.5" fill="#fff" />
<rect x="139.5" y="506" width="3.0" height="4.5" fill="#fff" />
<rect x="145.5" y="506" width="3.0" height="4.5" fill="#fff" />
<rect x="151.5" y="506" width="3.0" height="4.5" fill="#fff" />
<rect x="40.5" y="513.5" width="3.0" height="5.0" fill="#fff" />
<rect x="46.0" y="513.5" width="3.0" height="5.0" fill="#fff" />
<rect x="52.0" y="513.5" width="3.0" height="5.0" fill="#fff" />
<rect x="58.0" y="513.5" width="3.0" height="5.0" fill="#fff" />
<rect x="63.5" y="513.5" width="3.0" height="5.0" fill="#fff" />
<rect x="69.5" y="513.5" width="3.0" height="5.0" fill="#fff" />
<rect x="75.5" y="513.5" width="3.0" height="5.0" fill="#fff" />
<rect x="81.0" y="513.5" width="3.0" height="5.0" fill="#fff" />
<rect x="87.0" y="513.5" width="3.0" height="5.0" fill="#fff" />
<rect x="93.0" y="513.5" width="3.0" height="5.0" fill="#fff" />
<rect x="99.0" y="513.5" width="3.0" height="5.0" fill="#fff" />
<rect x="104.5" y="513.5" width="3.0" height="5.0" fill="#fff" />
<rect x="110.5" y="513.5" width="3.0" height="5.0" fill="#fff" />
<rect x="116.5" y="513.5" width="3.0" height="5.0" fill="#fff" />
<rect x="122.0" y="513.5" width="3.0" height="5.0" fill="#fff" />
<rect x="128.0" y="513.5" width="3.0" height="5.0" fill="#fff" />
<rect x="134.0" y="513.5" width="3.0" height="5.0" fill="#fff" />
<rect x="139.5" y="513.5" width="3.0" height="5.0" fill="#fff" />
<rect x="145.5" y="513.5" width="3.0" height="5.0" fill="#fff" />
<rect x="151.5" y="513.5" width="3.0" height="5.0" fill="#fff" />
<rect x="86" y="488" width="17" height="8" fill="#fff" />
<rect x="92" y="514" width="11" height="7" fill="#fff" />
<rect x="82" y="496" width="31" height="16" fill="#000" />
<rect x="83" y="497" width="29" height="14" rx="3" fill="#fff"/>
<text transform="translate(87,507.3) scale(0.8,1)" font-size="12" fill="#000" stroke="#000" stroke-width="0.15" text-anchor="start" textLength="25.62" lengthAdjust="spacing">P-0</text>
<rect x="165" y="488" width="110" height="33" fill="#000" />
<rect x="275" y="496" width="6" height="25" fill="#000" />
<rect x="278" y="506" width="3" height="4" fill="#fff" />
<rect x="168.5" y="490.5" width="3.0" height="4.0" fill="#fff" />
<rect x="174.0" y="490.5" width="3.0" height="4.0" fill="#fff" />
<rect x="180.0" y="490.5" width="3.0" height="4.0" fill="#fff" />
<rect x="186.0" y="490.5" width="3.0" height="4.0" fill="#fff" />
<rect x="191.5" y="490.5" width="3.0" height="4.0" fill="#fff" />
<rect x="197.5" y="490.5" width="3.0" height="4.0" fill="#fff" />
<rect x="203.5" y="490.5" width="3.0" height="4.0" fill="#fff" />
<rect x="209.0" y="490.5" width="3.0" height="4.0" fill="#fff" />
<rect x="215.0" y="490.5" width="3.0" height="4.0" fill="#fff" />
<rect x="221.0" y="490.5" width="3.0" height="4.0" fill="#fff" />
<rect x="227.0" y="490.5" width="3.0" height="4.0" fill="#fff" />
<rect x="232.5" y="490.5" width="3.0" height="4.0" fill="#fff" />
<rect x="238.5" y="490.5" width="3.0" height="4.0" fill="#fff" />
<rect x="244.5" y="490.5" width="3.0" height="4.0" fill="#fff" />
<rect x="250.0" y="490.5" width="3.0" height="4.0" fill="#fff" />
<rect x="256.0" y="490.5" width="3.0" height="4.0" fill="#fff" />
<rect x="262.0" y="490.5" width="3.0" height="4.0" fill="#fff" />
<rect x="268.0" y="490.5" width="3.0" height="4.0" fill="#fff" />
<rect x="168.5" y="497" width="3.0" height="6" fill="#fff" />
<rect x="174.0" y="497" width="3.0" height="6" fill="#fff" />
<rect x="180.0" y="497" width="3.0" height="6" fill="#fff" />
<rect x="186.0" y="497" width="3.0" height="6" fill="#fff" />
<rect x="191.5" y="497" width="3.0" height="6" fill="#fff" />
<rect x="197.5" y="497" width="3.0" height="6" fill="#fff" />
<rect x="203.5" y="497" width="3.0" height="6" fill="#fff" />
<rect x="209.0" y="497" width="3.0" height="6" fill="#fff" />
<rect x="215.0" y="497" width="3.0" height="6" fill="#fff" />
<rect x="221.0" y="497" width="3.0" height="6" fill="#fff" />
<rect x="227.0" y="497" width="3.0" height="6" fill="#fff" />
<rect x="232.5" y="497" width="3.0" height="6" fill="#fff" />
<rect x="238.5" y="497" width="3.0" height="6" fill="#fff" />
<rect x="244.5" y="497" width="3.0" height="6" fill="#fff" />
<rect x="250.0" y="497" width="3.0" height="6" fill="#fff" />
<rect x="256.0" y="497" width="3.0" height="6" fill="#fff" />
<rect x="262.0" y="497" width="3.0" height="6" fill="#fff" />
<rect x="268.0" y="497" width="3.0" height="6" fill="#fff" />
<rect x="273.5" y="497" width="3.0" height="6" fill="#fff" />
<rect x="168.5" y="506" width="3.0" height="4.5" fill="#fff" />
<rect x="174.0" y="506" width="3.0" height="4.5" fill="#fff" />
<rect x="180.0" y="506" width="3.0" height="4.5" fill="#fff" />
<rect x="186.0" y="506" width="3.0" height="4.5" fill="#fff" />
<rect x="191.5" y="506" width="3.0" height="4.5" fill="#fff" />
<rect x="197.5" y="506" width="3.0" height="4.5" fill="#fff" />
<rect x="203.5" y="506" width="3.0" height="4.5" fill="#fff" />
<rect x="209.0" y="506" width="3.0" height="4.5" fill="#fff" />
<rect x="215.0" y="506" width="3.0" height="4.5" fill="#fff" />
<rect x="221.0" y="506" width="3.0" height="4.5" fill="#fff" />
<rect x="227.0" y="506" width="3.0" height="4.5" fill="#fff" />
<rect x="232.5" y="506" width="3.0" height="4.5" fill="#fff" />
<rect x="238.5" y="506" width="3.0" height="4.5" fill="#fff" />
<rect x="244.5" y="506" width="3.0" height="4.5" fill="#fff" />
<rect x="250.0" y="506" width="3.0" height="4.5" fill="#fff" />
<rect x="256.0" y="506" width="3.0" height="4.5" fill="#fff" />
<rect x="262.0" y="506" width="3.0" height="4.5" fill="#fff" />
<rect x="268.0" y="506" width="3.0" height="4.5" fill="#fff" />
<rect x="273.5" y="506" width="3.0" height="4.5" fill="#fff" />
<rect x="168.5" y="513.5" width="3.0" height="5.0" fill="#fff" />
<rect x="174.0" y="513.5" width="3.0" height="5.0" fill="#fff" />
<rect x="180.0" y="513.5" width="3.0" height="5.0" fill="#fff" />
<rect x="186.0" y="513.5" width="3.0" height="5.0" fill="#fff" />
<rect x="191.5" y="513.5" width="3.0" height="5.0" fill="#fff" />
<rect x="197.5" y="513.5" width="3.0" height="5.0" fill="#fff" />
<rect x="203.5" y="513.5" width="3.0" height="5.0" fill="#fff" />
<rect x="209.0" y="513.5" width="3.0" height="5.0" fill="#fff" />
<rect x="215.0" y="513.5" width="3.0" height="5.0" fill="#fff" />
<rect x="221.0" y="513.5" width="3.0" height="5.0" fill="#fff" />
<rect x="227.0" y="513.5" width="3.0" height="5.0" fill="#fff" />
<rect x="232.5" y="513.5" width="3.0" height="5.0" fill="#fff" />
<rect x="238.5" y="513.5" width="3.0" height="5.0" fill="#fff" />
<rect x="244.5" y="513.5" width="3.0" height="5.0" fill="#fff" />
<rect x="250.0" y="513.5" width="3.0" height="5.0" fill="#fff" />
<rect x="256.0" y="513.5" width="3.0" height="5.0" fill="#fff" />
<rect x="262.0" y="513.5" width="3.0" height="5.0" fill="#fff" />
<rect x="268.0" y="513.5" width="3.0" height="5.0" fill="#fff" />
<rect x="273.5" y="513.5" width="3.0" height="5.0" fill="#fff" />
<rect x="214" y="488" width="12" height="8" fill="#fff" />
<rect x="220" y="514" width="6" height="7" fill="#fff" />
<rect x="208" y="496" width="31" height="16" fill="#000" />
<rect x="209" y="497" width="29" height="14" rx="3" fill="#fff"/>
<text transform="translate(213.5,507.3) scale(0.8,1)" font-size="12" fill="#000" stroke="#000" stroke-width="0.15" text-anchor="start" textLength="23.12" lengthAdjust="spacing">P-1</text>
<rect x="353" y="398" width="45" height="44" fill="#000" />
<rect x="355" y="394" width="1" height="4" fill="#000" />
<rect x="355" y="442" width="1" height="4" fill="#000" />
<rect x="358" y="394" width="1" height="4" fill="#000" />
<rect x="358" y="442" width="1" height="4" fill="#000" />
<rect x="360" y="394" width="1" height="4" fill="#000" />
<rect x="360" y="442" width="1" height="4" fill="#000" />
<rect x="362" y="394" width="1" height="4" fill="#000" />
<rect x="362" y="442" width="1" height="4" fill="#000" />
<rect x="365" y="394" width="1" height="4" fill="#000" />
<rect x="365" y="442" width="1" height="4" fill="#000" />
<rect x="368" y="394" width="1" height="4" fill="#000" />
<rect x="368" y="442" width="1" height="4" fill="#000" />
<rect x="370" y="394" width="1" height="4" fill="#000" />
<rect x="370" y="442" width="1" height="4" fill="#000" />
<rect x="372" y="394" width="1" height="4" fill="#000" />
<rect x="372" y="442" width="1" height="4" fill="#000" />
<rect x="375" y="394" width="1" height="4" fill="#000" />
<rect x="375" y="442" width="1" height="4" fill="#000" />
<rect x="378" y="394" width="1" height="4" fill="#000" />
<rect x="378" y="442" width="1" height="4" fill="#000" />
<rect x="380" y="394" width="1" height="4" fill="#000" />
<rect x="380" y="442" width="1" height="4" fill="#000" />
<rect x="382" y="394" width="1" height="4" fill="#000" />
<rect x="382" y="442" width="1" height="4" fill="#000" />
<rect x="385" y="394" width="1" height="4" fill="#000" />
<rect x="385" y="442" width="1" height="4" fill="#000" />
<rect x="388" y="394" width="1" height="4" fill="#000" />
<rect x="388" y="442" width="1" height="4" fill="#000" />
<rect x="390" y="394" width="1" height="4" fill="#000" />
<rect x="390" y="442" width="1" height="4" fill="#000" />
<rect x="392" y="394" width="1" height="4" fill="#000" />
<rect x="392" y="442" width="1" height="4" fill="#000" />
<rect x="395" y="394" width="1" height="4" fill="#000" />
<rect x="395" y="442" width="1" height="4" fill="#000" />
<rect x="349" y="400" width="4" height="1" fill="#000" />
<rect x="398" y="400" width="4" height="1" fill="#000" />
<rect x="349" y="402" width="4" height="1" fill="#000" />
<rect x="398" y="402" width="4" height="1" fill="#000" />
<rect x="349" y="405" width="4" height="1" fill="#000" />
<rect x="398" y="405" width="4" height="1" fill="#000" />
<rect x="349" y="408" width="4" height="1" fill="#000" />
<rect x="398" y="408" width="4" height="1" fill="#000" />
<rect x="349" y="410" width="4" height="1" fill="#000" />
<rect x="398" y="410" width="4" height="1" fill="#000" />
<rect x="349" y="412" width="4" height="1" fill="#000" />
<rect x="398" y="412" width="4" height="1" fill="#000" />
<rect x="349" y="415" width="4" height="1" fill="#000" />
<rect x="398" y="415" width="4" height="1" fill="#000" />
<rect x="349" y="418" width="4" height="1" fill="#000" />
<rect x="398" y="418" width="4" height="1" fill="#000" />
<rect x="349" y="420" width="4" height="1" fill="#000" />
<rect x="398" y="420" width="4" height="1" fill="#000" />
<rect x="349" y="422" width="4" height="1" fill="#000" />
<rect x="398" y="422" width="4" height="1" fill="#000" />
<rect x="349" y="425" width="4" height="1" fill="#000" />
<rect x="398" y="425" width="4" height="1" fill="#000" />
<rect x="349" y="428" width="4" height="1" fill="#000" />
<rect x="398" y="428" width="4" height="1" fill="#000" />
<rect x="349" y="430" width="4" height="1" fill="#000" />
<rect x="398" y="430" width="4" height="1" fill="#000" />
<rect x="349" y="432" width="4" height="1" fill="#000" />
<rect x="398" y="432" width="4" height="1" fill="#000" />
<rect x="349" y="435" width="4" height="1" fill="#000" />
<rect x="398" y="435" width="4" height="1" fill="#000" />
<rect x="349" y="438" width="4" height="1" fill="#000" />
<rect x="398" y="438" width="4" height="1" fill="#000" />
<rect x="349" y="440" width="4" height="1" fill="#000" />
<rect x="398" y="440" width="4" height="1" fill="#000" />
<path d="M351,396 L355,400 M400.5,396 L396,400 M351,444.5 L355,440.5 M400.5,444.5 L396,440" stroke="#000" stroke-width="5" stroke-linecap="round" shape-rendering="geometricPrecision"/>
<rect x="362" y="413" width="28" height="14" fill="#fff" />
<text transform="translate(363,424.5) scale(0.8,1)" font-size="12" fill="#000" stroke="#000" stroke-width="0.15" text-anchor="start" textLength="33.12" lengthAdjust="spacing">CPU</text>
<circle cx="359.5" cy="435.5" r="2.4" fill="#fff" shape-rendering="geometricPrecision"/>
<polygon points="459,441 520,441 520,495 514,501 459,501" fill="#000"/>
<polygon points="461,443 518,443 518,494 513,499 461,499" fill="#fff"/>
<rect x="459" y="441" width="7" height="7" fill="#000" />
<rect x="511" y="441" width="9" height="7" fill="#000" />
<rect x="459" y="493" width="7" height="8" fill="#000" />
<circle cx="515.2" cy="496.5" r="2.5" fill="#fff" stroke="#000" stroke-width="1" shape-rendering="geometricPrecision"/>
<rect x="471" y="443" width="1" height="5" fill="#000" />
<rect x="471" y="494" width="1" height="5" fill="#000" />
<rect x="500" y="443" width="1" height="5" fill="#000" />
<rect x="500" y="494" width="1" height="5" fill="#000" />
<rect x="461" y="459" width="5" height="1" fill="#000" />
<rect x="461" y="477" width="5" height="1" fill="#000" />
<rect x="461" y="488" width="5" height="1" fill="#000" />
<rect x="513" y="455" width="5" height="1" fill="#000" />
<rect x="513" y="473" width="5" height="1" fill="#000" />
<rect x="513" y="484" width="5" height="1" fill="#000" />
<rect x="473" y="461" width="32.5" height="19" rx="3" fill="#000"/>
<rect x="475" y="463" width="27.5" height="14" rx="1.5" fill="#fff"/>
<text transform="translate(476.5,475.5) scale(0.8,1)" font-size="12" fill="#000" stroke="#000" stroke-width="0.15" text-anchor="start" textLength="31.88" lengthAdjust="spacing">NPU</text>
<polygon points="584,394 645,394 645,449 640,454 584,454" fill="#000"/>
<rect x="592" y="395.5" width="44" height="5.0" fill="#fff" />
<rect x="585.5" y="401" width="6.0" height="45" fill="#fff" />
<rect x="638.5" y="402" width="5.0" height="45" fill="#fff" />
<rect x="592" y="447.5" width="42" height="4.5" fill="#fff" />
<rect x="596" y="395" width="1.2" height="6" fill="#000" />
<rect x="617" y="395" width="1.2" height="6" fill="#000" />
<rect x="625.5" y="395" width="1.2" height="6" fill="#000" />
<rect x="585" y="412" width="7" height="1.2" fill="#000" />
<rect x="585" y="432" width="7" height="1.2" fill="#000" />
<rect x="585" y="441.5" width="7" height="1.2" fill="#000" />
<rect x="585" y="405" width="3" height="1" fill="#000" />
<rect x="638" y="412" width="6" height="1.2" fill="#000" />
<rect x="638" y="432" width="6" height="1.2" fill="#000" />
<rect x="638" y="441" width="6" height="1.2" fill="#000" />
<rect x="603" y="447" width="1.2" height="6" fill="#000" />
<rect x="614.5" y="447" width="1.2" height="6" fill="#000" />
<rect x="623.5" y="447" width="1.2" height="6" fill="#000" />
<polygon points="633,453 633,447 638.5,447 643.5,447 643.5,448.5 639.5,452.5 639.5,453" fill="#fff"/>
<rect x="633" y="447" width="1.2" height="6" fill="#000" />
<circle cx="639.7" cy="449.3" r="2.4" fill="#fff" stroke="#000" stroke-width="1.1" shape-rendering="geometricPrecision"/>
<path d="M633.5,447 L638,442" stroke="#000" stroke-width="1.2" shape-rendering="geometricPrecision"/>
<rect x="600" y="417" width="29" height="14" rx="2" fill="#fff"/>
<text transform="translate(602,428) scale(0.8,1)" font-size="12" fill="#000" stroke="#000" stroke-width="0.15" text-anchor="start" textLength="33.12" lengthAdjust="spacing">CPU</text>
<rect x="666" y="354" width="43" height="127" fill="#000" />
<rect x="676" y="359" width="24" height="110" fill="#fff" />
<rect x="668" y="357.0" width="6" height="3.5" fill="#fff" />
<rect x="702" y="357.0" width="5.5" height="3.5" fill="#fff" />
<rect x="668" y="363.5" width="6" height="3.5" fill="#fff" />
<rect x="702" y="363.5" width="5.5" height="3.5" fill="#fff" />
<rect x="668" y="369.5" width="6" height="3.5" fill="#fff" />
<rect x="702" y="369.5" width="5.5" height="3.5" fill="#fff" />
<rect x="668" y="376.0" width="6" height="3.5" fill="#fff" />
<rect x="702" y="376.0" width="5.5" height="3.5" fill="#fff" />
<rect x="668" y="382.0" width="6" height="3.5" fill="#fff" />
<rect x="702" y="382.0" width="5.5" height="3.5" fill="#fff" />
<rect x="668" y="388.5" width="6" height="3.5" fill="#fff" />
<rect x="702" y="388.5" width="5.5" height="3.5" fill="#fff" />
<rect x="668" y="394.5" width="6" height="3.5" fill="#fff" />
<rect x="702" y="394.5" width="5.5" height="3.5" fill="#fff" />
<rect x="668" y="401.0" width="6" height="3.5" fill="#fff" />
<rect x="702" y="401.0" width="5.5" height="3.5" fill="#fff" />
<rect x="668" y="407.0" width="6" height="3.5" fill="#fff" />
<rect x="702" y="407.0" width="5.5" height="3.5" fill="#fff" />
<rect x="668" y="413.5" width="6" height="3.5" fill="#fff" />
<rect x="702" y="413.5" width="5.5" height="3.5" fill="#fff" />
<rect x="668" y="419.5" width="6" height="3.5" fill="#fff" />
<rect x="702" y="419.5" width="5.5" height="3.5" fill="#fff" />
<rect x="668" y="426.0" width="6" height="3.5" fill="#fff" />
<rect x="702" y="426.0" width="5.5" height="3.5" fill="#fff" />
<rect x="668" y="432.0" width="6" height="3.5" fill="#fff" />
<rect x="702" y="432.0" width="5.5" height="3.5" fill="#fff" />
<rect x="668" y="438.5" width="6" height="3.5" fill="#fff" />
<rect x="702" y="438.5" width="5.5" height="3.5" fill="#fff" />
<rect x="668" y="445.0" width="6" height="3.5" fill="#fff" />
<rect x="702" y="445.0" width="5.5" height="3.5" fill="#fff" />
<rect x="668" y="451.0" width="6" height="3.5" fill="#fff" />
<rect x="702" y="451.0" width="5.5" height="3.5" fill="#fff" />
<rect x="668" y="457.5" width="6" height="3.5" fill="#fff" />
<rect x="702" y="457.5" width="5.5" height="3.5" fill="#fff" />
<rect x="668" y="463.5" width="6" height="3.5" fill="#fff" />
<rect x="702" y="463.5" width="5.5" height="3.5" fill="#fff" />
<rect x="668" y="472" width="6" height="4" fill="#fff" />
<rect x="702" y="472" width="5.5" height="4" fill="#fff" />
<polygon points="684,481 686.5,476 691.5,476 694,481" fill="#fff"/>
<rect x="673" y="408.5" width="30" height="17" rx="2.5" fill="#000"/>
<rect x="674" y="409.5" width="28" height="15" rx="1.5" fill="#fff"/>
<text transform="translate(675.5,421) scale(0.8,1)" font-size="12" fill="#000" stroke="#000" stroke-width="0.15" text-anchor="start" textLength="32.5" lengthAdjust="spacing">NPU</text>
<rect x="645.5" y="467.5" width="6" height="18" fill="#fff" stroke="#000" stroke-width="1" rx="0"/>
<rect x="648" y="468" width="3" height="3.5" fill="#000" />
<rect x="648" y="473" width="3" height="4.5" fill="#000" />
<rect x="647.5" y="480" width="3.0" height="3.5" fill="#000" />
<rect x="648.5" y="481" width="1.0" height="1.5" fill="#fff" />
<rect x="595" y="467" width="35" height="19" rx="4" fill="#000" shape-rendering="geometricPrecision"/>
<polygon points="639,476 628,471 628,482.5 639,477.5" fill="#fff" stroke="#000" stroke-width="1.7" stroke-linejoin="round" shape-rendering="geometricPrecision"/>
<rect x="597" y="469" width="30.5" height="14.5" rx="2" fill="#fff" shape-rendering="geometricPrecision"/>
<text transform="translate(602,480.5) scale(0.8,1)" font-size="12" fill="#000" stroke="#000" stroke-width="0.15" text-anchor="start" textLength="26.25" lengthAdjust="spacing">J11</text>
<rect x="637" y="475.3" width="11" height="3.0" fill="#000" />
<rect x="581.5" y="492.5" width="112" height="24" fill="#fff" stroke="#000" stroke-width="1" rx="0"/>
<rect x="582" y="500" width="111" height="1" fill="#000" />
<path d="M585.0,495.5 H589.0 V496.5 H590.5 V499.5 H583.5 V496.5 H585.0 Z" fill="#000"/>
<rect x="585.0" y="497" width="4.0" height="1" fill="#fff" />
<rect x="583.5" y="502.5" width="7.0" height="2.0" fill="#000" />
<path d="M594.0,495.5 H598.0 V496.5 H599.5 V499.5 H592.5 V496.5 H594.0 Z" fill="#000"/>
<rect x="594.0" y="497" width="4.0" height="1" fill="#fff" />
<rect x="592.5" y="502.5" width="7.0" height="2.0" fill="#000" />
<path d="M603.5,495.5 H607.5 V496.5 H609.0 V499.5 H602.0 V496.5 H603.5 Z" fill="#000"/>
<rect x="603.5" y="497" width="4.0" height="1" fill="#fff" />
<rect x="602.0" y="502.5" width="7.0" height="2.0" fill="#000" />
<path d="M612.5,495.5 H616.5 V496.5 H618.0 V499.5 H611.0 V496.5 H612.5 Z" fill="#000"/>
<rect x="612.5" y="497" width="4.0" height="1" fill="#fff" />
<rect x="611.0" y="502.5" width="7.0" height="2.0" fill="#000" />
<path d="M622.0,495.5 H626.0 V496.5 H627.5 V499.5 H620.5 V496.5 H622.0 Z" fill="#000"/>
<rect x="622.0" y="497" width="4.0" height="1" fill="#fff" />
<rect x="620.5" y="502.5" width="7.0" height="2.0" fill="#000" />
<path d="M631.0,495.5 H635.0 V496.5 H636.5 V499.5 H629.5 V496.5 H631.0 Z" fill="#000"/>
<rect x="631.0" y="497" width="4.0" height="1" fill="#fff" />
<rect x="629.5" y="502.5" width="7.0" height="2.0" fill="#000" />
<path d="M640.0,495.5 H644.0 V496.5 H645.5 V499.5 H638.5 V496.5 H640.0 Z" fill="#000"/>
<rect x="640.0" y="497" width="4.0" height="1" fill="#fff" />
<rect x="638.5" y="502.5" width="7.0" height="2.0" fill="#000" />
<path d="M649.5,495.5 H653.5 V496.5 H655.0 V499.5 H648.0 V496.5 H649.5 Z" fill="#000"/>
<rect x="649.5" y="497" width="4.0" height="1" fill="#fff" />
<rect x="648.0" y="502.5" width="7.0" height="2.0" fill="#000" />
<path d="M658.5,495.5 H662.5 V496.5 H664.0 V499.5 H657.0 V496.5 H658.5 Z" fill="#000"/>
<rect x="658.5" y="497" width="4.0" height="1" fill="#fff" />
<rect x="657.0" y="502.5" width="7.0" height="2.0" fill="#000" />
<path d="M668.0,495.5 H672.0 V496.5 H673.5 V499.5 H666.5 V496.5 H668.0 Z" fill="#000"/>
<rect x="668.0" y="497" width="4.0" height="1" fill="#fff" />
<rect x="666.5" y="502.5" width="7.0" height="2.0" fill="#000" />
<path d="M677.0,495.5 H681.0 V496.5 H682.5 V499.5 H675.5 V496.5 H677.0 Z" fill="#000"/>
<rect x="677.0" y="497" width="4.0" height="1" fill="#fff" />
<rect x="675.5" y="502.5" width="7.0" height="2.0" fill="#000" />
<path d="M686.0,495.5 H690.0 V496.5 H691.5 V499.5 H684.5 V496.5 H686.0 Z" fill="#000"/>
<rect x="686.0" y="497" width="4.0" height="1" fill="#fff" />
<rect x="684.5" y="502.5" width="7.0" height="2.0" fill="#000" />
<rect x="587.5" y="506.5" width="6.5" height="6.5" fill="#fff" stroke="#000" stroke-width="1" rx="0"/>
<rect x="596.5" y="506.5" width="6.5" height="6.5" fill="#fff" stroke="#000" stroke-width="1" rx="0"/>
<rect x="606.5" y="506.5" width="6.5" height="6.5" fill="#fff" stroke="#000" stroke-width="1" rx="0"/>
<rect x="615.5" y="506.5" width="6.5" height="6.5" fill="#fff" stroke="#000" stroke-width="1" rx="0"/>
<rect x="625.5" y="506.5" width="6.5" height="6.5" fill="#fff" stroke="#000" stroke-width="1" rx="0"/>
<rect x="634.5" y="506.5" width="6.5" height="6.5" fill="#fff" stroke="#000" stroke-width="1" rx="0"/>
<rect x="644.5" y="506.5" width="6.5" height="6.5" fill="#fff" stroke="#000" stroke-width="1" rx="0"/>
<rect x="653.5" y="506.5" width="6.5" height="6.5" fill="#fff" stroke="#000" stroke-width="1" rx="0"/>
<rect x="663.5" y="506.5" width="6.5" height="6.5" fill="#fff" stroke="#000" stroke-width="1" rx="0"/>
<rect x="672.5" y="506.5" width="6.5" height="6.5" fill="#fff" stroke="#000" stroke-width="1" rx="0"/>
<rect x="682.5" y="506.5" width="6.5" height="6.5" fill="#fff" stroke="#000" stroke-width="1" rx="0"/>
<rect x="581" y="507" width="3" height="6" fill="#000" />
<rect x="581" y="508" width="2" height="4" fill="#fff" />
<rect x="691" y="507" width="3" height="6" fill="#000" />
<rect x="692" y="508" width="2" height="4" fill="#fff" />
<rect x="755" y="419" width="31" height="37" fill="#000" />
<rect x="779" y="414" width="7" height="47" fill="#000" />
<rect x="782" y="412" width="4" height="51" fill="#000" />
<rect x="752.5" y="425.5" width="3" height="24" fill="#fff" stroke="#000" stroke-width="1" rx="0"/>
<rect x="748.5" y="427.5" width="4" height="8" fill="#fff" stroke="#000" stroke-width="1" rx="0"/>
<rect x="748.5" y="439.5" width="4" height="8" fill="#fff" stroke="#000" stroke-width="1" rx="0"/>
<rect x="753" y="436" width="2" height="3" fill="#000" />
<rect x="753.5" y="436" width="1.0" height="3" fill="#fff" />
<rect x="753.5" y="429" width="1.5" height="1" fill="#000" />
<rect x="753.5" y="431" width="1.5" height="1" fill="#000" />
<rect x="753.5" y="433" width="1.5" height="1" fill="#000" />
<rect x="753.5" y="441" width="1.5" height="1" fill="#000" />
<rect x="753.5" y="443" width="1.5" height="1" fill="#000" />
<rect x="753.5" y="445" width="1.5" height="1" fill="#000" />
</svg>
</body></html>
